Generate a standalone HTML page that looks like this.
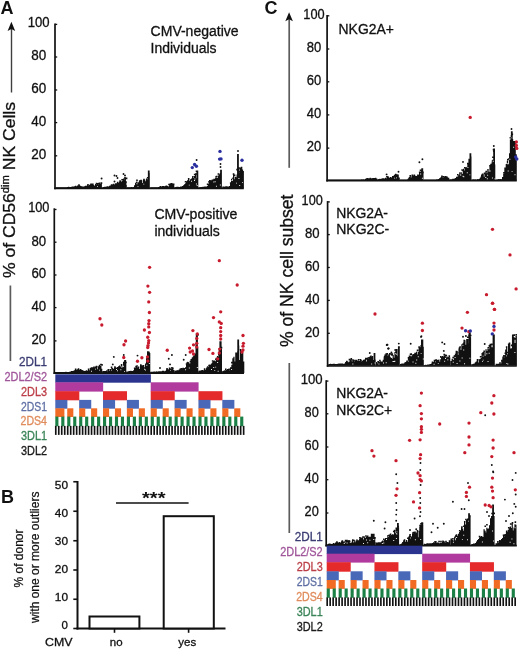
<!DOCTYPE html>
<html><head><meta charset="utf-8"><style>
html,body{margin:0;padding:0;background:#fff;}
body{width:520px;height:649px;overflow:hidden;}
svg{display:block;filter:blur(0.35px);font-family:"Liberation Sans",sans-serif;}
</style></head><body>
<svg width="520" height="649" viewBox="0 0 520 649">
<rect width="520" height="649" fill="#fff"/>
<text x="0.60" y="13.90" font-size="18" text-anchor="start" font-weight="bold" fill="#111" stroke="#111" stroke-width="0.0" >A</text>
<line x1="11.50" y1="29.00" x2="11.50" y2="92.50" stroke="#404040" stroke-width="1.4"/>
<path d="M11.4 21.8 L15.2 31.0 L11.4 29.0 L7.6 31.0 Z" fill="#111"/>
<line x1="10.40" y1="285.50" x2="10.40" y2="361.00" stroke="#5c5c5c" stroke-width="1.7"/>
<text transform="translate(14.8,278) rotate(-90)" font-size="16.5" fill="#111" stroke="#111" stroke-width="0.3" textLength="176" lengthAdjust="spacingAndGlyphs">% of CD56<tspan font-size="10.5" dy="-5.8">dim</tspan><tspan dy="5.8"> NK Cells</tspan></text>
<text x="150.60" y="36.20" font-size="14" text-anchor="start" font-weight="normal" fill="#111" stroke="#111" stroke-width="0.3" textLength="88" lengthAdjust="spacingAndGlyphs" >CMV-negative</text>
<text x="150.60" y="53.00" font-size="14" text-anchor="start" font-weight="normal" fill="#111" stroke="#111" stroke-width="0.3" textLength="66" lengthAdjust="spacingAndGlyphs" >Individuals</text>
<line x1="55.00" y1="23.50" x2="55.00" y2="189.20" stroke="#111" stroke-width="1.7"/>
<line x1="54.20" y1="188.40" x2="243.80" y2="188.40" stroke="#111" stroke-width="1.7"/>
<line x1="55.00" y1="24.40" x2="57.20" y2="24.40" stroke="#111" stroke-width="1.3"/>
<text x="38.70" y="27.10" font-size="14" text-anchor="middle" font-weight="normal" fill="#111" stroke="#111" stroke-width="0.3" textLength="21.9" lengthAdjust="spacingAndGlyphs" >100</text>
<line x1="55.00" y1="57.00" x2="57.20" y2="57.00" stroke="#111" stroke-width="1.3"/>
<text x="38.70" y="60.30" font-size="14" text-anchor="middle" font-weight="normal" fill="#111" stroke="#111" stroke-width="0.3" textLength="15.0" lengthAdjust="spacingAndGlyphs" >80</text>
<line x1="55.00" y1="90.00" x2="57.20" y2="90.00" stroke="#111" stroke-width="1.3"/>
<text x="38.70" y="93.30" font-size="14" text-anchor="middle" font-weight="normal" fill="#111" stroke="#111" stroke-width="0.3" textLength="15.0" lengthAdjust="spacingAndGlyphs" >60</text>
<line x1="55.00" y1="122.60" x2="57.20" y2="122.60" stroke="#111" stroke-width="1.3"/>
<text x="38.70" y="125.90" font-size="14" text-anchor="middle" font-weight="normal" fill="#111" stroke="#111" stroke-width="0.3" textLength="15.0" lengthAdjust="spacingAndGlyphs" >40</text>
<line x1="55.00" y1="155.80" x2="57.20" y2="155.80" stroke="#111" stroke-width="1.3"/>
<text x="38.70" y="159.10" font-size="14" text-anchor="middle" font-weight="normal" fill="#111" stroke="#111" stroke-width="0.3" textLength="15.0" lengthAdjust="spacingAndGlyphs" >20</text>
<path fill="#111" d="M147.85 188.20V170.50h1.80V188.20zM196.45 188.20V170.40h1.80V188.20zM220.10 188.20V169.70h1.80V188.20zM237.05 188.20V154.00h1.80V188.20zM55.50 188.20V187.30h1.25V188.20zM56.45 188.20V187.30h1.25V188.20zM57.41 188.20V187.30h1.25V188.20zM58.36 188.20V187.30h1.25V188.20zM59.32 188.20V187.30h1.25V188.20zM60.27 188.20V187.30h1.25V188.20zM61.23 188.20V187.30h1.25V188.20zM62.18 188.20V187.26h1.25V188.20zM63.14 188.20V187.30h1.25V188.20zM64.09 188.20V187.24h1.25V188.20zM65.05 188.20V187.30h1.25V188.20zM66.00 188.20V187.30h1.30V188.20zM67.00 188.20V187.10h1.30V188.20zM68.00 188.20V186.86h1.30V188.20zM69.00 188.20V187.10h1.30V188.20zM70.00 188.20V186.99h1.30V188.20zM71.00 188.20V186.73h1.30V188.20zM72.00 188.20V186.40h1.30V188.20zM73.00 188.20V186.39h1.30V188.20zM74.00 188.20V186.30h1.30V188.20zM75.00 188.20V185.64h1.30V188.20zM76.00 188.20V186.21h1.30V188.20zM77.00 188.20V185.38h1.30V188.20zM78.00 188.20V185.40h1.30V188.20zM79.00 188.20V185.32h1.30V188.20zM80.00 188.20V186.01h1.30V188.20zM81.00 188.20V186.15h1.30V188.20zM82.00 188.20V186.57h1.30V188.20zM83.00 188.20V186.49h1.30V188.20zM84.00 188.20V186.29h1.30V188.20zM85.00 188.20V185.82h1.30V188.20zM86.00 188.20V185.86h1.30V188.20zM87.00 188.20V185.28h1.30V188.20zM88.00 188.20V185.73h1.30V188.20zM89.00 188.20V184.68h1.30V188.20zM90.00 188.20V184.59h1.30V188.20zM91.00 188.20V184.96h1.30V188.20zM92.00 188.20V184.97h1.30V188.20zM93.00 188.20V184.98h1.30V188.20zM94.00 188.20V185.85h1.30V188.20zM95.00 188.20V184.07h1.30V188.20zM96.00 188.20V184.86h1.30V188.20zM97.00 188.20V184.04h1.30V188.20zM98.00 188.20V184.80h1.20V188.20zM98.90 188.20V184.02h1.20V188.20zM99.80 188.20V185.54h1.20V188.20zM100.70 188.20V183.32h1.20V188.20zM102.20 188.20V187.24h1.27V188.20zM103.17 188.20V186.92h1.27V188.20zM104.13 188.20V186.84h1.27V188.20zM105.10 188.20V186.75h1.27V188.20zM106.07 188.20V186.52h1.27V188.20zM107.03 188.20V186.30h1.27V188.20zM108.00 188.20V186.53h1.30V188.20zM109.00 188.20V185.70h1.30V188.20zM110.00 188.20V185.56h1.30V188.20zM111.00 188.20V185.61h1.30V188.20zM112.00 188.20V185.79h1.30V188.20zM113.00 188.20V184.87h1.30V188.20zM114.00 188.20V184.55h1.30V188.20zM115.00 188.20V184.92h1.30V188.20zM116.00 188.20V183.28h1.30V188.20zM117.00 188.20V183.18h1.30V188.20zM118.00 188.20V182.67h1.30V188.20zM119.00 188.20V181.69h1.30V188.20zM120.00 188.20V182.57h1.30V188.20zM121.00 188.20V181.97h1.30V188.20zM122.00 188.20V180.69h1.30V188.20zM123.00 188.20V179.54h1.18V188.20zM123.88 188.20V179.69h1.18V188.20zM124.75 188.20V179.01h1.18V188.20zM125.62 188.20V181.18h1.18V188.20zM127.00 188.20V187.30h1.30V188.20zM128.00 188.20V187.30h1.30V188.20zM129.00 188.20V187.30h1.30V188.20zM130.00 188.20V187.30h1.30V188.20zM131.00 188.20V187.12h1.30V188.20zM132.00 188.20V187.20h1.30V188.20zM133.00 188.20V186.93h1.30V188.20zM134.00 188.20V185.37h1.30V188.20zM135.00 188.20V182.86h1.30V188.20zM136.00 188.20V181.70h1.30V188.20zM137.00 188.20V182.56h1.30V188.20zM138.00 188.20V182.23h1.30V188.20zM139.00 188.20V181.72h1.30V188.20zM140.00 188.20V181.02h1.30V188.20zM141.00 188.20V180.37h1.30V188.20zM142.00 188.20V183.04h1.30V188.20zM143.00 188.20V179.84h1.30V188.20zM144.00 188.20V179.63h1.30V188.20zM145.00 188.20V181.22h1.23V188.20zM145.93 188.20V178.38h1.23V188.20zM146.87 188.20V179.13h1.23V188.20zM147.80 188.20V177.30h0.60V188.20zM148.10 188.20V173.02h1.70V188.20zM150.20 188.20V187.30h1.28V188.20zM151.17 188.20V187.30h1.28V188.20zM152.15 188.20V187.30h1.28V188.20zM153.12 188.20V187.30h1.28V188.20zM154.10 188.20V187.30h1.28V188.20zM155.07 188.20V187.30h1.28V188.20zM156.05 188.20V187.30h1.28V188.20zM157.03 188.20V187.30h1.28V188.20zM158.00 188.20V186.89h1.30V188.20zM159.00 188.20V186.38h1.30V188.20zM160.00 188.20V186.03h1.30V188.20zM161.00 188.20V186.47h1.30V188.20zM162.00 188.20V186.00h1.30V188.20zM163.00 188.20V185.97h1.30V188.20zM164.00 188.20V186.30h1.30V188.20zM165.00 188.20V185.63h1.30V188.20zM166.00 188.20V185.45h1.30V188.20zM167.00 188.20V185.98h1.30V188.20zM168.00 188.20V186.45h1.30V188.20zM169.00 188.20V185.27h1.30V188.20zM170.00 188.20V184.97h1.30V188.20zM171.00 188.20V184.17h1.30V188.20zM172.00 188.20V183.93h1.30V188.20zM173.00 188.20V185.08h1.30V188.20zM174.50 188.20V187.14h1.24V188.20zM175.44 188.20V186.97h1.24V188.20zM176.38 188.20V186.69h1.24V188.20zM177.31 188.20V186.67h1.24V188.20zM178.25 188.20V186.89h1.24V188.20zM179.19 188.20V186.90h1.24V188.20zM180.12 188.20V186.44h1.24V188.20zM181.06 188.20V186.57h1.24V188.20zM182.00 188.20V186.06h1.30V188.20zM183.00 188.20V185.32h1.30V188.20zM184.00 188.20V184.25h1.30V188.20zM185.00 188.20V183.18h1.30V188.20zM186.00 188.20V181.34h1.30V188.20zM187.00 188.20V180.19h1.30V188.20zM188.00 188.20V179.40h1.30V188.20zM189.00 188.20V180.71h1.30V188.20zM190.00 188.20V179.26h1.30V188.20zM191.00 188.20V178.54h1.30V188.20zM192.00 188.20V177.39h1.30V188.20zM193.00 188.20V178.03h1.30V188.20zM194.00 188.20V176.05h1.30V188.20zM195.00 188.20V174.52h1.10V188.20zM195.80 188.20V178.18h1.10V188.20zM196.60 188.20V172.38h1.70V188.20zM198.50 188.20V187.30h1.24V188.20zM199.44 188.20V187.26h1.24V188.20zM200.39 188.20V187.07h1.24V188.20zM201.33 188.20V187.04h1.24V188.20zM202.28 188.20V186.80h1.24V188.20zM203.22 188.20V186.75h1.24V188.20zM204.17 188.20V186.56h1.24V188.20zM205.11 188.20V186.53h1.24V188.20zM206.06 188.20V186.41h1.24V188.20zM207.00 188.20V185.66h1.30V188.20zM208.00 188.20V183.39h1.30V188.20zM209.00 188.20V181.90h1.18V188.20zM209.88 188.20V181.45h1.18V188.20zM210.75 188.20V181.23h1.18V188.20zM211.62 188.20V179.43h1.18V188.20zM212.50 188.20V180.43h1.16V188.20zM213.36 188.20V178.80h1.16V188.20zM214.22 188.20V178.67h1.16V188.20zM215.08 188.20V178.06h1.16V188.20zM215.94 188.20V177.92h1.16V188.20zM216.80 188.20V178.00h1.27V188.20zM217.77 188.20V175.38h1.27V188.20zM218.73 188.20V174.14h1.27V188.20zM219.70 188.20V173.36h1.25V188.20zM220.65 188.20V178.83h1.25V188.20zM222.30 188.20V186.59h1.26V188.20zM223.26 188.20V186.55h1.26V188.20zM224.23 188.20V186.70h1.26V188.20zM225.19 188.20V186.18h1.26V188.20zM226.15 188.20V186.32h1.26V188.20zM227.11 188.20V186.53h1.26V188.20zM228.07 188.20V186.45h1.26V188.20zM229.04 188.20V185.97h1.26V188.20zM230.00 188.20V183.55h1.30V188.20zM231.00 188.20V178.67h1.30V188.20zM232.00 188.20V180.90h1.30V188.20zM233.00 188.20V174.39h1.30V188.20zM234.00 188.20V179.34h1.13V188.20zM234.83 188.20V176.73h1.13V188.20zM235.67 188.20V177.35h1.13V188.20zM236.50 188.20V174.52h1.10V188.20zM237.30 188.20V169.60h1.50V188.20zM238.50 188.20V168.60h1.05V188.20zM239.25 188.20V173.03h1.05V188.20zM240.00 188.20V167.50h1.30V188.20zM241.00 188.20V168.33h1.30V188.20zM242.00 188.20V169.42h1.10V188.20zM242.80 188.20V170.91h1.10V188.20zM78.19 184.15h1.6v1.6h-1.6zM87.18 184.08h1.6v1.6h-1.6zM90.15 183.38h1.6v1.6h-1.6zM91.16 183.49h1.6v1.6h-1.6zM92.06 183.58h1.6v1.6h-1.6zM95.71 182.78h1.6v1.6h-1.6zM97.16 182.99h1.6v1.6h-1.6zM98.23 182.78h1.6v1.6h-1.6zM98.82 182.52h1.6v1.6h-1.6zM99.64 183.88h1.6v1.6h-1.6zM100.65 182.31h1.6v1.6h-1.6zM110.76 184.21h1.6v1.6h-1.6zM111.80 184.48h1.6v1.6h-1.6zM112.76 183.72h1.6v1.6h-1.6zM114.92 183.32h1.6v1.6h-1.6zM116.86 181.80h1.6v1.6h-1.6zM119.29 180.23h1.6v1.6h-1.6zM120.16 181.17h1.6v1.6h-1.6zM121.29 178.97h1.6v1.6h-1.6zM122.87 178.50h1.6v1.6h-1.6zM124.17 177.05h1.6v1.6h-1.6zM124.57 177.73h1.6v1.6h-1.6zM125.80 177.57h1.6v1.6h-1.6zM136.18 179.56h1.6v1.6h-1.6zM138.88 180.30h1.6v1.6h-1.6zM140.25 179.86h1.6v1.6h-1.6zM143.18 178.84h1.6v1.6h-1.6zM146.87 176.95h1.6v1.6h-1.6zM168.20 183.70h1.6v1.6h-1.6zM169.71 183.36h1.6v1.6h-1.6zM171.07 182.90h1.6v1.6h-1.6zM172.86 183.45h1.6v1.6h-1.6zM184.74 180.96h1.6v1.6h-1.6zM187.89 178.10h1.6v1.6h-1.6zM192.11 176.02h1.6v1.6h-1.6zM193.85 173.63h1.6v1.6h-1.6zM194.97 173.24h1.6v1.6h-1.6zM195.69 170.49h1.6v1.6h-1.6zM206.79 183.42h1.6v1.6h-1.6zM208.24 181.06h1.6v1.6h-1.6zM209.00 180.03h1.6v1.6h-1.6zM210.53 180.17h1.6v1.6h-1.6zM212.68 179.42h1.6v1.6h-1.6zM215.24 176.16h1.6v1.6h-1.6zM215.82 175.68h1.6v1.6h-1.6zM217.59 173.15h1.6v1.6h-1.6zM229.89 182.23h1.6v1.6h-1.6zM232.30 177.44h1.6v1.6h-1.6zM232.76 173.32h1.6v1.6h-1.6zM233.81 174.38h1.6v1.6h-1.6zM236.28 168.87h1.6v1.6h-1.6zM238.30 167.33h1.6v1.6h-1.6zM239.07 171.04h1.6v1.6h-1.6zM240.74 166.75h1.6v1.6h-1.6z"/>
<path fill="#fff" d="M97.07 185.91h0.95v0.95h-0.95zM126.06 183.54h0.95v0.95h-0.95zM136.49 183.31h0.95v0.95h-0.95zM137.48 186.16h0.95v0.95h-0.95zM143.31 183.66h0.95v0.95h-0.95zM188.81 184.64h0.95v0.95h-0.95zM191.10 180.74h0.95v0.95h-0.95zM194.41 178.50h0.95v0.95h-0.95zM194.00 180.06h0.95v0.95h-0.95zM195.93 183.52h0.95v0.95h-0.95zM196.68 185.05h0.95v0.95h-0.95zM213.34 181.49h0.95v0.95h-0.95zM214.70 181.37h0.95v0.95h-0.95zM215.93 185.76h0.95v0.95h-0.95zM219.87 184.52h0.95v0.95h-0.95zM231.30 180.15h0.95v0.95h-0.95zM235.99 182.66h0.95v0.95h-0.95zM238.45 177.95h0.95v0.95h-0.95zM239.22 185.09h0.95v0.95h-0.95zM241.97 181.92h0.95v0.95h-0.95z"/>
<g fill="#111"><circle cx="101.6" cy="178.5" r="0.95"/><circle cx="114.5" cy="175.5" r="0.95"/><circle cx="114.5" cy="181.5" r="0.95"/><circle cx="117.5" cy="178" r="0.95"/><circle cx="116.5" cy="176" r="0.95"/><circle cx="123.5" cy="174" r="0.95"/><circle cx="125" cy="175.5" r="0.95"/><circle cx="196.6" cy="160" r="0.95"/><circle cx="220.5" cy="164" r="0.95"/><circle cx="220.5" cy="167" r="0.95"/><circle cx="238" cy="151" r="0.95"/></g>
<g fill="#2a2fa0"><circle cx="192.3" cy="167.6" r="1.7"/><circle cx="194.6" cy="164.5" r="1.7"/><circle cx="196.4" cy="166.3" r="1.7"/><circle cx="220.0" cy="151.4" r="1.7"/><circle cx="219.6" cy="159.1" r="1.7"/><circle cx="221.0" cy="158.9" r="1.7"/><circle cx="242.0" cy="160.3" r="1.7"/></g>
<text x="154.40" y="219.20" font-size="14" text-anchor="start" font-weight="normal" fill="#111" stroke="#111" stroke-width="0.3" textLength="83" lengthAdjust="spacingAndGlyphs" >CMV-positive</text>
<text x="154.40" y="236.00" font-size="14" text-anchor="start" font-weight="normal" fill="#111" stroke="#111" stroke-width="0.3" textLength="65.5" lengthAdjust="spacingAndGlyphs" >individuals</text>
<line x1="54.30" y1="208.30" x2="54.30" y2="374.00" stroke="#111" stroke-width="1.7"/>
<line x1="53.50" y1="373.20" x2="244.00" y2="373.20" stroke="#111" stroke-width="1.7"/>
<line x1="54.30" y1="209.50" x2="56.50" y2="209.50" stroke="#111" stroke-width="1.3"/>
<text x="38.80" y="212.20" font-size="14" text-anchor="middle" font-weight="normal" fill="#111" stroke="#111" stroke-width="0.3" textLength="21.3" lengthAdjust="spacingAndGlyphs" >100</text>
<line x1="54.30" y1="242.20" x2="56.50" y2="242.20" stroke="#111" stroke-width="1.3"/>
<text x="38.80" y="245.50" font-size="14" text-anchor="middle" font-weight="normal" fill="#111" stroke="#111" stroke-width="0.3" textLength="14.7" lengthAdjust="spacingAndGlyphs" >80</text>
<line x1="54.30" y1="275.00" x2="56.50" y2="275.00" stroke="#111" stroke-width="1.3"/>
<text x="38.80" y="278.30" font-size="14" text-anchor="middle" font-weight="normal" fill="#111" stroke="#111" stroke-width="0.3" textLength="14.7" lengthAdjust="spacingAndGlyphs" >60</text>
<line x1="54.30" y1="307.60" x2="56.50" y2="307.60" stroke="#111" stroke-width="1.3"/>
<text x="38.80" y="310.90" font-size="14" text-anchor="middle" font-weight="normal" fill="#111" stroke="#111" stroke-width="0.3" textLength="14.7" lengthAdjust="spacingAndGlyphs" >40</text>
<line x1="54.30" y1="340.90" x2="56.50" y2="340.90" stroke="#111" stroke-width="1.3"/>
<text x="38.80" y="344.20" font-size="14" text-anchor="middle" font-weight="normal" fill="#111" stroke="#111" stroke-width="0.3" textLength="14.7" lengthAdjust="spacingAndGlyphs" >20</text>
<path fill="#111" d="M124.20 373.00V360.00h2.00V373.00zM147.50 373.00V352.50h2.50V373.00zM195.80 373.00V333.50h2.10V373.00zM219.40 373.00V341.30h2.20V373.00zM237.30 373.00V339.40h1.80V373.00zM55.00 373.00V372.10h1.24V373.00zM55.94 373.00V372.10h1.24V373.00zM56.88 373.00V372.10h1.24V373.00zM57.81 373.00V372.10h1.24V373.00zM58.75 373.00V372.10h1.24V373.00zM59.69 373.00V372.10h1.24V373.00zM60.62 373.00V372.10h1.24V373.00zM61.56 373.00V372.10h1.24V373.00zM62.50 373.00V371.99h1.24V373.00zM63.44 373.00V371.96h1.24V373.00zM64.38 373.00V371.89h1.24V373.00zM65.31 373.00V371.79h1.24V373.00zM66.25 373.00V372.01h1.24V373.00zM67.19 373.00V372.02h1.24V373.00zM68.12 373.00V371.95h1.24V373.00zM69.06 373.00V371.74h1.24V373.00zM70.00 373.00V371.51h1.30V373.00zM71.00 373.00V371.08h1.30V373.00zM72.00 373.00V370.94h1.30V373.00zM73.00 373.00V370.72h1.30V373.00zM74.00 373.00V370.35h1.30V373.00zM75.00 373.00V370.10h1.30V373.00zM76.00 373.00V370.99h1.30V373.00zM77.00 373.00V370.26h1.30V373.00zM78.00 373.00V369.81h1.30V373.00zM79.00 373.00V369.80h1.30V373.00zM80.00 373.00V370.21h1.30V373.00zM81.00 373.00V371.02h1.30V373.00zM82.00 373.00V370.37h1.30V373.00zM83.00 373.00V370.73h1.30V373.00zM84.00 373.00V370.99h1.30V373.00zM85.00 373.00V370.66h1.30V373.00zM86.00 373.00V370.26h1.30V373.00zM87.00 373.00V370.70h1.30V373.00zM88.00 373.00V370.05h1.30V373.00zM89.00 373.00V370.17h1.30V373.00zM90.00 373.00V369.21h1.30V373.00zM91.00 373.00V368.73h1.30V373.00zM92.00 373.00V368.65h1.30V373.00zM93.00 373.00V368.04h1.30V373.00zM94.00 373.00V367.55h1.30V373.00zM95.00 373.00V366.43h1.18V373.00zM95.88 373.00V366.68h1.18V373.00zM96.77 373.00V369.26h1.18V373.00zM97.65 373.00V366.19h1.18V373.00zM98.53 373.00V366.24h1.18V373.00zM99.42 373.00V365.68h1.18V373.00zM100.30 373.00V366.04h1.15V373.00zM101.15 373.00V368.67h1.15V373.00zM102.50 373.00V371.06h1.22V373.00zM103.42 373.00V371.11h1.22V373.00zM104.33 373.00V370.95h1.22V373.00zM105.25 373.00V370.98h1.22V373.00zM106.17 373.00V370.30h1.22V373.00zM107.08 373.00V371.30h1.22V373.00zM108.00 373.00V370.84h1.30V373.00zM109.00 373.00V370.72h1.30V373.00zM110.00 373.00V368.97h1.30V373.00zM111.00 373.00V368.18h1.30V373.00zM112.00 373.00V368.06h1.30V373.00zM113.00 373.00V369.11h1.30V373.00zM114.00 373.00V367.73h1.30V373.00zM115.00 373.00V367.34h1.30V373.00zM116.00 373.00V367.67h1.30V373.00zM117.00 373.00V367.07h1.30V373.00zM118.00 373.00V366.28h1.30V373.00zM119.00 373.00V365.57h1.30V373.00zM120.00 373.00V366.41h1.30V373.00zM121.00 373.00V365.49h1.30V373.00zM122.00 373.00V367.33h1.30V373.00zM123.00 373.00V361.69h1.30V373.00zM124.00 373.00V361.68h1.30V373.00zM125.00 373.00V363.56h1.30V373.00zM126.50 373.00V371.52h1.24V373.00zM127.44 373.00V371.40h1.24V373.00zM128.38 373.00V371.11h1.24V373.00zM129.31 373.00V370.89h1.24V373.00zM130.25 373.00V370.71h1.24V373.00zM131.19 373.00V371.05h1.24V373.00zM132.12 373.00V370.89h1.24V373.00zM133.06 373.00V370.33h1.24V373.00zM134.00 373.00V369.34h1.30V373.00zM135.00 373.00V367.46h1.30V373.00zM136.00 373.00V366.13h1.30V373.00zM137.00 373.00V367.36h1.30V373.00zM138.00 373.00V366.39h1.30V373.00zM139.00 373.00V369.01h1.30V373.00zM140.00 373.00V365.57h1.30V373.00zM141.00 373.00V365.30h1.30V373.00zM142.00 373.00V365.30h1.30V373.00zM143.00 373.00V365.02h1.30V373.00zM144.00 373.00V367.13h1.30V373.00zM145.00 373.00V363.38h1.30V373.00zM146.00 373.00V358.88h1.30V373.00zM147.00 373.00V352.90h1.30V373.00zM148.00 373.00V353.53h1.30V373.00zM149.00 373.00V353.08h1.30V373.00zM150.50 373.00V371.87h1.25V373.00zM151.45 373.00V371.69h1.25V373.00zM152.40 373.00V371.82h1.25V373.00zM153.35 373.00V371.61h1.25V373.00zM154.30 373.00V371.53h1.25V373.00zM155.25 373.00V371.74h1.25V373.00zM156.20 373.00V371.37h1.25V373.00zM157.15 373.00V371.64h1.25V373.00zM158.10 373.00V371.23h1.25V373.00zM159.05 373.00V371.16h1.25V373.00zM160.00 373.00V371.19h1.30V373.00zM161.00 373.00V371.30h1.30V373.00zM162.00 373.00V370.77h1.30V373.00zM163.00 373.00V370.66h1.30V373.00zM164.00 373.00V371.35h1.30V373.00zM165.00 373.00V370.82h1.30V373.00zM166.00 373.00V369.38h1.30V373.00zM167.00 373.00V369.22h1.30V373.00zM168.00 373.00V369.25h1.30V373.00zM169.00 373.00V368.86h1.30V373.00zM170.00 373.00V370.66h1.30V373.00zM171.00 373.00V369.00h1.30V373.00zM172.00 373.00V368.86h1.30V373.00zM173.00 373.00V370.00h1.30V373.00zM174.50 373.00V370.50h1.25V373.00zM175.45 373.00V370.97h1.25V373.00zM176.41 373.00V370.05h1.25V373.00zM177.36 373.00V370.58h1.25V373.00zM178.32 373.00V369.69h1.25V373.00zM179.27 373.00V369.60h1.25V373.00zM180.23 373.00V369.40h1.25V373.00zM181.18 373.00V369.29h1.25V373.00zM182.14 373.00V369.14h1.25V373.00zM183.09 373.00V369.16h1.25V373.00zM184.05 373.00V369.12h1.25V373.00zM185.00 373.00V367.35h1.30V373.00zM186.00 373.00V364.22h1.30V373.00zM187.00 373.00V363.93h1.18V373.00zM187.88 373.00V362.15h1.18V373.00zM188.75 373.00V363.51h1.18V373.00zM189.62 373.00V360.84h1.18V373.00zM190.50 373.00V359.02h1.28V373.00zM191.47 373.00V358.67h1.28V373.00zM192.45 373.00V356.73h1.28V373.00zM193.43 373.00V357.10h1.28V373.00zM194.40 373.00V353.40h1.40V373.00zM195.50 373.00V342.91h1.30V373.00zM196.50 373.00V353.10h1.30V373.00zM197.50 373.00V347.52h0.80V373.00zM198.50 373.00V370.71h1.23V373.00zM199.43 373.00V370.54h1.23V373.00zM200.36 373.00V370.43h1.23V373.00zM201.29 373.00V370.02h1.23V373.00zM202.21 373.00V369.92h1.23V373.00zM203.14 373.00V370.44h1.23V373.00zM204.07 373.00V369.86h1.23V373.00zM205.00 373.00V370.89h1.30V373.00zM206.00 373.00V368.56h1.30V373.00zM207.00 373.00V368.07h1.30V373.00zM208.00 373.00V366.99h1.28V373.00zM208.98 373.00V365.61h1.28V373.00zM209.96 373.00V365.07h1.28V373.00zM210.94 373.00V363.61h1.28V373.00zM211.92 373.00V362.33h1.28V373.00zM212.90 373.00V360.69h1.28V373.00zM213.88 373.00V360.45h1.28V373.00zM214.85 373.00V361.13h1.28V373.00zM215.83 373.00V359.88h1.28V373.00zM216.80 373.00V357.19h1.25V373.00zM217.75 373.00V357.11h1.25V373.00zM218.70 373.00V348.12h1.20V373.00zM219.60 373.00V345.39h1.20V373.00zM220.50 373.00V349.09h1.50V373.00zM222.20 373.00V371.05h1.28V373.00zM223.17 373.00V370.69h1.28V373.00zM224.15 373.00V370.23h1.28V373.00zM225.12 373.00V370.17h1.28V373.00zM226.10 373.00V369.94h1.28V373.00zM227.07 373.00V370.43h1.28V373.00zM228.05 373.00V369.66h1.28V373.00zM229.03 373.00V370.19h1.28V373.00zM230.00 373.00V367.26h1.60V373.00zM231.30 373.00V364.69h1.30V373.00zM232.30 373.00V358.16h1.30V373.00zM233.30 373.00V356.63h1.27V373.00zM234.27 373.00V361.43h1.27V373.00zM235.23 373.00V352.46h1.27V373.00zM236.20 373.00V352.52h1.25V373.00zM237.15 373.00V350.97h1.25V373.00zM238.10 373.00V345.62h1.20V373.00zM239.00 373.00V359.99h1.30V373.00zM240.00 373.00V350.32h1.30V373.00zM241.00 373.00V353.52h1.30V373.00zM242.00 373.00V352.43h1.30V373.00zM243.00 373.00V361.53h1.30V373.00zM74.84 368.58h1.6v1.6h-1.6zM75.85 369.78h1.6v1.6h-1.6zM77.01 369.19h1.6v1.6h-1.6zM77.71 368.36h1.6v1.6h-1.6zM79.85 368.98h1.6v1.6h-1.6zM81.00 369.99h1.6v1.6h-1.6zM87.82 368.54h1.6v1.6h-1.6zM89.84 367.79h1.6v1.6h-1.6zM91.00 367.13h1.6v1.6h-1.6zM91.83 367.20h1.6v1.6h-1.6zM93.24 366.59h1.6v1.6h-1.6zM95.75 365.67h1.6v1.6h-1.6zM98.79 364.73h1.6v1.6h-1.6zM100.15 363.74h1.6v1.6h-1.6zM101.22 364.04h1.6v1.6h-1.6zM107.36 369.26h1.6v1.6h-1.6zM108.00 368.94h1.6v1.6h-1.6zM110.75 366.45h1.6v1.6h-1.6zM114.13 366.16h1.6v1.6h-1.6zM120.77 364.00h1.6v1.6h-1.6zM124.06 360.22h1.6v1.6h-1.6zM125.18 361.76h1.6v1.6h-1.6zM133.89 367.54h1.6v1.6h-1.6zM135.30 365.63h1.6v1.6h-1.6zM136.24 365.13h1.6v1.6h-1.6zM140.01 364.30h1.6v1.6h-1.6zM146.13 357.48h1.6v1.6h-1.6zM147.03 351.36h1.6v1.6h-1.6zM147.97 351.52h1.6v1.6h-1.6zM166.25 367.90h1.6v1.6h-1.6zM168.79 367.41h1.6v1.6h-1.6zM169.89 368.41h1.6v1.6h-1.6zM171.11 367.12h1.6v1.6h-1.6zM172.08 367.54h1.6v1.6h-1.6zM179.42 368.49h1.6v1.6h-1.6zM180.52 368.03h1.6v1.6h-1.6zM180.90 368.29h1.6v1.6h-1.6zM182.37 367.79h1.6v1.6h-1.6zM183.96 368.01h1.6v1.6h-1.6zM185.76 363.13h1.6v1.6h-1.6zM186.71 362.34h1.6v1.6h-1.6zM191.71 357.58h1.6v1.6h-1.6zM193.15 355.61h1.6v1.6h-1.6zM197.40 333.96h1.6v1.6h-1.6zM203.82 368.37h1.6v1.6h-1.6zM205.26 369.64h1.6v1.6h-1.6zM206.12 367.52h1.6v1.6h-1.6zM206.92 366.19h1.6v1.6h-1.6zM208.25 364.71h1.6v1.6h-1.6zM209.19 364.56h1.6v1.6h-1.6zM211.84 360.23h1.6v1.6h-1.6zM215.14 358.52h1.6v1.6h-1.6zM215.68 357.76h1.6v1.6h-1.6zM216.88 356.07h1.6v1.6h-1.6zM217.98 353.97h1.6v1.6h-1.6zM220.71 346.86h1.6v1.6h-1.6zM224.97 368.44h1.6v1.6h-1.6zM226.97 369.07h1.6v1.6h-1.6zM228.34 368.49h1.6v1.6h-1.6zM231.06 361.86h1.6v1.6h-1.6zM237.28 342.80h1.6v1.6h-1.6zM239.80 349.01h1.6v1.6h-1.6z"/>
<path fill="#fff" d="M91.09 370.72h0.95v0.95h-0.95zM95.07 368.63h0.95v0.95h-0.95zM98.96 369.63h0.95v0.95h-0.95zM110.97 369.63h0.95v0.95h-0.95zM116.01 369.04h0.95v0.95h-0.95zM116.97 370.27h0.95v0.95h-0.95zM120.37 369.29h0.95v0.95h-0.95zM121.21 366.61h0.95v0.95h-0.95zM122.95 365.85h0.95v0.95h-0.95zM124.03 370.91h0.95v0.95h-0.95zM143.96 368.75h0.95v0.95h-0.95zM145.08 369.56h0.95v0.95h-0.95zM146.33 364.75h0.95v0.95h-0.95zM148.14 360.80h0.95v0.95h-0.95zM148.87 362.99h0.95v0.95h-0.95zM185.13 369.34h0.95v0.95h-0.95zM188.83 367.55h0.95v0.95h-0.95zM189.52 362.38h0.95v0.95h-0.95zM196.82 367.01h0.95v0.95h-0.95zM211.04 368.96h0.95v0.95h-0.95zM213.24 366.93h0.95v0.95h-0.95zM214.25 370.13h0.95v0.95h-0.95zM215.21 366.64h0.95v0.95h-0.95zM217.15 362.07h0.95v0.95h-0.95zM217.69 370.68h0.95v0.95h-0.95zM231.12 368.94h0.95v0.95h-0.95z"/>
<g fill="#111"><circle cx="113.8" cy="356.9" r="0.95"/><circle cx="112.8" cy="364.4" r="0.95"/><circle cx="123.75" cy="355" r="0.95"/><circle cx="137.5" cy="355.6" r="0.95"/><circle cx="171.9" cy="355" r="0.95"/><circle cx="168.75" cy="358.75" r="0.95"/><circle cx="170" cy="364.4" r="0.95"/><circle cx="160" cy="368" r="0.95"/><circle cx="185.7" cy="355" r="0.95"/><circle cx="183.7" cy="359.8" r="0.95"/><circle cx="187.6" cy="362.7" r="0.95"/></g>
<g fill="#c81c2e"><circle cx="100" cy="318.75" r="1.65"/><circle cx="101.8" cy="325" r="1.65"/><circle cx="149.6" cy="267.3" r="1.65"/><circle cx="147.9" cy="286.1" r="1.65"/><circle cx="149.6" cy="292.3" r="1.65"/><circle cx="125.6" cy="341" r="1.65"/><circle cx="124" cy="344.75" r="1.65"/><circle cx="123.75" cy="357.5" r="1.65"/><circle cx="148.75" cy="301.9" r="1.65"/><circle cx="149.4" cy="312.5" r="1.65"/><circle cx="149" cy="320.6" r="1.65"/><circle cx="148.75" cy="323.75" r="1.65"/><circle cx="148.75" cy="326.9" r="1.65"/><circle cx="144.4" cy="330" r="1.65"/><circle cx="149.4" cy="332.5" r="1.65"/><circle cx="147.75" cy="337.25" r="1.65"/><circle cx="148.75" cy="340.6" r="1.65"/><circle cx="148.5" cy="343" r="1.65"/><circle cx="148" cy="345.6" r="1.65"/><circle cx="147.75" cy="347.5" r="1.65"/><circle cx="147.5" cy="356.9" r="1.65"/><circle cx="147.75" cy="361" r="1.65"/><circle cx="141.9" cy="357.75" r="1.65"/><circle cx="137.5" cy="361.25" r="1.65"/><circle cx="167.25" cy="350.25" r="1.65"/><circle cx="192.9" cy="330.6" r="1.65"/><circle cx="197.3" cy="334" r="1.65"/><circle cx="196.8" cy="338.4" r="1.65"/><circle cx="196.8" cy="343.3" r="1.65"/><circle cx="193.5" cy="344.8" r="1.65"/><circle cx="196.8" cy="347.1" r="1.65"/><circle cx="189.6" cy="348.1" r="1.65"/><circle cx="192.5" cy="351" r="1.65"/><circle cx="190.2" cy="352" r="1.65"/><circle cx="193.5" cy="354" r="1.65"/><circle cx="219.3" cy="260.7" r="1.65"/><circle cx="220.7" cy="311.8" r="1.65"/><circle cx="213.5" cy="317.6" r="1.65"/><circle cx="219.3" cy="321.9" r="1.65"/><circle cx="221.2" cy="323.4" r="1.65"/><circle cx="220.7" cy="327.7" r="1.65"/><circle cx="220.7" cy="331.6" r="1.65"/><circle cx="220.7" cy="335.5" r="1.65"/><circle cx="220.7" cy="339" r="1.65"/><circle cx="219.7" cy="349.1" r="1.65"/><circle cx="219.3" cy="353" r="1.65"/><circle cx="217.7" cy="358.8" r="1.65"/><circle cx="209" cy="349.5" r="1.65"/><circle cx="212.9" cy="353.4" r="1.65"/><circle cx="237.2" cy="285" r="1.65"/><circle cx="243" cy="335.5" r="1.65"/><circle cx="243.4" cy="343.3" r="1.65"/><circle cx="243" cy="346.2" r="1.65"/><circle cx="243" cy="350" r="1.65"/><circle cx="242" cy="352" r="1.65"/></g>
<rect x="55.30" y="374.30" width="95.57" height="8.40" fill="#2b3590"/>
<rect x="55.30" y="382.30" width="47.86" height="9.30" fill="#b03a9e"/>
<rect x="150.72" y="382.30" width="47.86" height="9.30" fill="#b03a9e"/>
<rect x="55.30" y="391.20" width="24.01" height="9.10" fill="#e52a2b"/>
<rect x="103.01" y="391.20" width="24.01" height="9.10" fill="#e52a2b"/>
<rect x="150.72" y="391.20" width="24.01" height="9.10" fill="#e52a2b"/>
<rect x="198.44" y="391.20" width="24.01" height="9.10" fill="#e52a2b"/>
<rect x="55.30" y="399.90" width="12.08" height="8.80" fill="#4a68b8"/>
<rect x="79.16" y="399.90" width="12.08" height="8.80" fill="#4a68b8"/>
<rect x="103.01" y="399.90" width="12.08" height="8.80" fill="#4a68b8"/>
<rect x="126.87" y="399.90" width="12.08" height="8.80" fill="#4a68b8"/>
<rect x="150.72" y="399.90" width="12.08" height="8.80" fill="#4a68b8"/>
<rect x="174.58" y="399.90" width="12.08" height="8.80" fill="#4a68b8"/>
<rect x="198.44" y="399.90" width="12.08" height="8.80" fill="#4a68b8"/>
<rect x="222.29" y="399.90" width="12.08" height="8.80" fill="#4a68b8"/>
<rect x="55.30" y="408.30" width="9.10" height="8.70" fill="#f26b24"/>
<rect x="67.23" y="408.30" width="6.11" height="8.70" fill="#f26b24"/>
<rect x="79.16" y="408.30" width="6.11" height="8.70" fill="#f26b24"/>
<rect x="91.08" y="408.30" width="6.11" height="8.70" fill="#f26b24"/>
<rect x="103.01" y="408.30" width="6.11" height="8.70" fill="#f26b24"/>
<rect x="114.94" y="408.30" width="6.11" height="8.70" fill="#f26b24"/>
<rect x="126.87" y="408.30" width="6.11" height="8.70" fill="#f26b24"/>
<rect x="138.80" y="408.30" width="6.11" height="8.70" fill="#f26b24"/>
<rect x="150.72" y="408.30" width="6.11" height="8.70" fill="#f26b24"/>
<rect x="162.65" y="408.30" width="6.11" height="8.70" fill="#f26b24"/>
<rect x="174.58" y="408.30" width="6.11" height="8.70" fill="#f26b24"/>
<rect x="186.51" y="408.30" width="6.11" height="8.70" fill="#f26b24"/>
<rect x="198.44" y="408.30" width="6.11" height="8.70" fill="#f26b24"/>
<rect x="210.36" y="408.30" width="6.11" height="8.70" fill="#f26b24"/>
<rect x="222.29" y="408.30" width="6.11" height="8.70" fill="#f26b24"/>
<rect x="234.22" y="408.30" width="6.11" height="8.70" fill="#f26b24"/>
<rect x="55.30" y="416.60" width="3.13" height="9.70" fill="#1a8045"/>
<rect x="61.26" y="416.60" width="3.13" height="9.70" fill="#1a8045"/>
<rect x="67.23" y="416.60" width="3.13" height="9.70" fill="#1a8045"/>
<rect x="73.19" y="416.60" width="3.13" height="9.70" fill="#1a8045"/>
<rect x="79.16" y="416.60" width="3.13" height="9.70" fill="#1a8045"/>
<rect x="85.12" y="416.60" width="3.13" height="9.70" fill="#1a8045"/>
<rect x="91.08" y="416.60" width="3.13" height="9.70" fill="#1a8045"/>
<rect x="97.05" y="416.60" width="3.13" height="9.70" fill="#1a8045"/>
<rect x="103.01" y="416.60" width="3.13" height="9.70" fill="#1a8045"/>
<rect x="108.98" y="416.60" width="3.13" height="9.70" fill="#1a8045"/>
<rect x="114.94" y="416.60" width="3.13" height="9.70" fill="#1a8045"/>
<rect x="120.90" y="416.60" width="3.13" height="9.70" fill="#1a8045"/>
<rect x="126.87" y="416.60" width="3.13" height="9.70" fill="#1a8045"/>
<rect x="132.83" y="416.60" width="3.13" height="9.70" fill="#1a8045"/>
<rect x="138.80" y="416.60" width="3.13" height="9.70" fill="#1a8045"/>
<rect x="144.76" y="416.60" width="3.13" height="9.70" fill="#1a8045"/>
<rect x="150.72" y="416.60" width="3.13" height="9.70" fill="#1a8045"/>
<rect x="156.69" y="416.60" width="3.13" height="9.70" fill="#1a8045"/>
<rect x="162.65" y="416.60" width="3.13" height="9.70" fill="#1a8045"/>
<rect x="168.62" y="416.60" width="3.13" height="9.70" fill="#1a8045"/>
<rect x="174.58" y="416.60" width="3.13" height="9.70" fill="#1a8045"/>
<rect x="180.54" y="416.60" width="3.13" height="9.70" fill="#1a8045"/>
<rect x="186.51" y="416.60" width="3.13" height="9.70" fill="#1a8045"/>
<rect x="192.47" y="416.60" width="3.13" height="9.70" fill="#1a8045"/>
<rect x="198.44" y="416.60" width="3.13" height="9.70" fill="#1a8045"/>
<rect x="204.40" y="416.60" width="3.13" height="9.70" fill="#1a8045"/>
<rect x="210.36" y="416.60" width="3.13" height="9.70" fill="#1a8045"/>
<rect x="216.33" y="416.60" width="3.13" height="9.70" fill="#1a8045"/>
<rect x="222.29" y="416.60" width="3.13" height="9.70" fill="#1a8045"/>
<rect x="228.26" y="416.60" width="3.13" height="9.70" fill="#1a8045"/>
<rect x="234.22" y="416.60" width="3.13" height="9.70" fill="#1a8045"/>
<rect x="240.18" y="416.60" width="3.13" height="9.70" fill="#1a8045"/>
<g fill="#111"><rect x="54.95" y="425.90" width="1.65" height="9.00"/><rect x="57.93" y="425.90" width="1.65" height="9.00"/><rect x="60.91" y="425.90" width="1.65" height="9.00"/><rect x="63.90" y="425.90" width="1.65" height="9.00"/><rect x="66.88" y="425.90" width="1.65" height="9.00"/><rect x="69.86" y="425.90" width="1.65" height="9.00"/><rect x="72.84" y="425.90" width="1.65" height="9.00"/><rect x="75.82" y="425.90" width="1.65" height="9.00"/><rect x="78.81" y="425.90" width="1.65" height="9.00"/><rect x="81.79" y="425.90" width="1.65" height="9.00"/><rect x="84.77" y="425.90" width="1.65" height="9.00"/><rect x="87.75" y="425.90" width="1.65" height="9.00"/><rect x="90.73" y="425.90" width="1.65" height="9.00"/><rect x="93.72" y="425.90" width="1.65" height="9.00"/><rect x="96.70" y="425.90" width="1.65" height="9.00"/><rect x="99.68" y="425.90" width="1.65" height="9.00"/><rect x="102.66" y="425.90" width="1.65" height="9.00"/><rect x="105.64" y="425.90" width="1.65" height="9.00"/><rect x="108.63" y="425.90" width="1.65" height="9.00"/><rect x="111.61" y="425.90" width="1.65" height="9.00"/><rect x="114.59" y="425.90" width="1.65" height="9.00"/><rect x="117.57" y="425.90" width="1.65" height="9.00"/><rect x="120.55" y="425.90" width="1.65" height="9.00"/><rect x="123.54" y="425.90" width="1.65" height="9.00"/><rect x="126.52" y="425.90" width="1.65" height="9.00"/><rect x="129.50" y="425.90" width="1.65" height="9.00"/><rect x="132.48" y="425.90" width="1.65" height="9.00"/><rect x="135.46" y="425.90" width="1.65" height="9.00"/><rect x="138.45" y="425.90" width="1.65" height="9.00"/><rect x="141.43" y="425.90" width="1.65" height="9.00"/><rect x="144.41" y="425.90" width="1.65" height="9.00"/><rect x="147.39" y="425.90" width="1.65" height="9.00"/><rect x="150.37" y="425.90" width="1.65" height="9.00"/><rect x="153.36" y="425.90" width="1.65" height="9.00"/><rect x="156.34" y="425.90" width="1.65" height="9.00"/><rect x="159.32" y="425.90" width="1.65" height="9.00"/><rect x="162.30" y="425.90" width="1.65" height="9.00"/><rect x="165.28" y="425.90" width="1.65" height="9.00"/><rect x="168.27" y="425.90" width="1.65" height="9.00"/><rect x="171.25" y="425.90" width="1.65" height="9.00"/><rect x="174.23" y="425.90" width="1.65" height="9.00"/><rect x="177.21" y="425.90" width="1.65" height="9.00"/><rect x="180.19" y="425.90" width="1.65" height="9.00"/><rect x="183.18" y="425.90" width="1.65" height="9.00"/><rect x="186.16" y="425.90" width="1.65" height="9.00"/><rect x="189.14" y="425.90" width="1.65" height="9.00"/><rect x="192.12" y="425.90" width="1.65" height="9.00"/><rect x="195.10" y="425.90" width="1.65" height="9.00"/><rect x="198.09" y="425.90" width="1.65" height="9.00"/><rect x="201.07" y="425.90" width="1.65" height="9.00"/><rect x="204.05" y="425.90" width="1.65" height="9.00"/><rect x="207.03" y="425.90" width="1.65" height="9.00"/><rect x="210.01" y="425.90" width="1.65" height="9.00"/><rect x="213.00" y="425.90" width="1.65" height="9.00"/><rect x="215.98" y="425.90" width="1.65" height="9.00"/><rect x="218.96" y="425.90" width="1.65" height="9.00"/><rect x="221.94" y="425.90" width="1.65" height="9.00"/><rect x="224.92" y="425.90" width="1.65" height="9.00"/><rect x="227.91" y="425.90" width="1.65" height="9.00"/><rect x="230.89" y="425.90" width="1.65" height="9.00"/><rect x="233.87" y="425.90" width="1.65" height="9.00"/><rect x="236.85" y="425.90" width="1.65" height="9.00"/><rect x="239.83" y="425.90" width="1.65" height="9.00"/><rect x="242.82" y="425.90" width="1.65" height="9.00"/></g>
<text x="47.00" y="366.00" font-size="12" text-anchor="end" font-weight="normal" fill="#3a3c72" stroke="#3a3c72" stroke-width="0.3" textLength="28.0" lengthAdjust="spacingAndGlyphs" >2DL1</text>
<text x="47.00" y="380.85" font-size="12" text-anchor="end" font-weight="normal" fill="#a0569a" stroke="#a0569a" stroke-width="0.3" textLength="42.5" lengthAdjust="spacingAndGlyphs" >2DL2/S2</text>
<text x="47.00" y="395.70" font-size="12" text-anchor="end" font-weight="normal" fill="#bc3f48" stroke="#bc3f48" stroke-width="0.3" textLength="26.0" lengthAdjust="spacingAndGlyphs" >2DL3</text>
<text x="47.00" y="410.55" font-size="12" text-anchor="end" font-weight="normal" fill="#5f6fa4" stroke="#5f6fa4" stroke-width="0.3" textLength="26.0" lengthAdjust="spacingAndGlyphs" >2DS1</text>
<text x="47.00" y="425.40" font-size="12" text-anchor="end" font-weight="normal" fill="#e08c5c" stroke="#e08c5c" stroke-width="0.3" textLength="26.5" lengthAdjust="spacingAndGlyphs" >2DS4</text>
<text x="47.00" y="440.25" font-size="12" text-anchor="end" font-weight="normal" fill="#3a8458" stroke="#3a8458" stroke-width="0.3" textLength="26.0" lengthAdjust="spacingAndGlyphs" >3DL1</text>
<text x="47.00" y="455.10" font-size="12" text-anchor="end" font-weight="normal" fill="#1a1a1a" stroke="#1a1a1a" stroke-width="0.3" textLength="26.0" lengthAdjust="spacingAndGlyphs" >3DL2</text>
<text x="1.00" y="502.70" font-size="18" text-anchor="start" font-weight="bold" fill="#111" stroke="#111" stroke-width="0.0" >B</text>
<text transform="translate(23,558.5) rotate(-90)" font-size="12" text-anchor="middle" fill="#111" stroke="#111" stroke-width="0.25">% of donor</text>
<text transform="translate(39,557.3) rotate(-90)" font-size="12" text-anchor="middle" fill="#111" stroke="#111" stroke-width="0.25">with one or more outliers</text>
<line x1="77.50" y1="481.00" x2="77.50" y2="629.50" stroke="#111" stroke-width="2.0"/>
<line x1="76.50" y1="628.50" x2="225.50" y2="628.50" stroke="#111" stroke-width="2.0"/>
<line x1="73.30" y1="481.75" x2="77.50" y2="481.75" stroke="#111" stroke-width="1.6"/>
<text x="68.00" y="489.00" font-size="11" text-anchor="end" font-weight="normal" fill="#111" stroke="#111" stroke-width="0.3" textLength="13.2" lengthAdjust="spacingAndGlyphs" >50</text>
<line x1="73.30" y1="511.25" x2="77.50" y2="511.25" stroke="#111" stroke-width="1.6"/>
<text x="68.00" y="517.00" font-size="11" text-anchor="end" font-weight="normal" fill="#111" stroke="#111" stroke-width="0.3" textLength="13.2" lengthAdjust="spacingAndGlyphs" >40</text>
<line x1="73.30" y1="540.75" x2="77.50" y2="540.75" stroke="#111" stroke-width="1.6"/>
<text x="68.00" y="545.00" font-size="11" text-anchor="end" font-weight="normal" fill="#111" stroke="#111" stroke-width="0.3" textLength="13.2" lengthAdjust="spacingAndGlyphs" >30</text>
<line x1="73.30" y1="570.00" x2="77.50" y2="570.00" stroke="#111" stroke-width="1.6"/>
<text x="68.00" y="573.00" font-size="11" text-anchor="end" font-weight="normal" fill="#111" stroke="#111" stroke-width="0.3" textLength="13.2" lengthAdjust="spacingAndGlyphs" >20</text>
<line x1="73.30" y1="599.25" x2="77.50" y2="599.25" stroke="#111" stroke-width="1.6"/>
<text x="68.00" y="601.00" font-size="11" text-anchor="end" font-weight="normal" fill="#111" stroke="#111" stroke-width="0.3" textLength="13.2" lengthAdjust="spacingAndGlyphs" >10</text>
<line x1="73.30" y1="628.50" x2="77.50" y2="628.50" stroke="#111" stroke-width="1.6"/>
<text x="68.00" y="629.00" font-size="11" text-anchor="end" font-weight="normal" fill="#111" stroke="#111" stroke-width="0.3" textLength="6.4" lengthAdjust="spacingAndGlyphs" >0</text>
<line x1="114.50" y1="628.50" x2="114.50" y2="632.80" stroke="#111" stroke-width="1.6"/>
<line x1="188.60" y1="628.50" x2="188.60" y2="632.80" stroke="#111" stroke-width="1.6"/>
<rect x="89.5" y="616.5" width="49.9" height="12" fill="#fff" stroke="#111" stroke-width="2"/>
<rect x="163.7" y="516.2" width="50.1" height="112.3" fill="#fff" stroke="#111" stroke-width="2"/>
<line x1="116.00" y1="503.00" x2="188.60" y2="503.00" stroke="#111" stroke-width="1.6"/>
<text x="153.80" y="504.00" font-size="17" text-anchor="middle" font-weight="bold" fill="#111" stroke="#111" stroke-width="0.0" textLength="23.5" lengthAdjust="spacingAndGlyphs" >***</text>
<text x="45.00" y="645.60" font-size="11.5" text-anchor="start" font-weight="normal" fill="#111" stroke="#111" stroke-width="0.3" textLength="27.5" lengthAdjust="spacingAndGlyphs" >CMV</text>
<text x="116.20" y="645.60" font-size="11.5" text-anchor="middle" font-weight="normal" fill="#111" stroke="#111" stroke-width="0.3" >no</text>
<text x="187.30" y="645.60" font-size="11.5" text-anchor="middle" font-weight="normal" fill="#111" stroke="#111" stroke-width="0.3" >yes</text>
<text x="264.60" y="13.80" font-size="18" text-anchor="start" font-weight="bold" fill="#111" stroke="#111" stroke-width="0.0" >C</text>
<line x1="289.20" y1="19.00" x2="289.20" y2="167.80" stroke="#5c5c5c" stroke-width="1.7"/>
<path d="M289.1 12.2 L292.9 21.2 L289.1 19.2 L285.3 21.2 Z" fill="#111"/>
<line x1="289.30" y1="363.00" x2="289.30" y2="533.00" stroke="#5c5c5c" stroke-width="1.7"/>
<text transform="translate(293.2,347) rotate(-90)" font-size="17.5" fill="#111" stroke="#111" stroke-width="0.3" textLength="152.5" lengthAdjust="spacingAndGlyphs">% of NK cell subset</text>
<text x="338.60" y="33.80" font-size="14" text-anchor="start" font-weight="normal" fill="#111" stroke="#111" stroke-width="0.3" textLength="55.2" lengthAdjust="spacingAndGlyphs" >NKG2A+</text>
<line x1="327.10" y1="15.10" x2="327.10" y2="181.40" stroke="#111" stroke-width="1.7"/>
<line x1="326.30" y1="180.60" x2="516.80" y2="180.60" stroke="#111" stroke-width="1.7"/>
<line x1="327.10" y1="15.80" x2="329.30" y2="15.80" stroke="#111" stroke-width="1.3"/>
<text x="314.00" y="18.50" font-size="14" text-anchor="middle" font-weight="normal" fill="#111" stroke="#111" stroke-width="0.3" textLength="21.3" lengthAdjust="spacingAndGlyphs" >100</text>
<line x1="327.10" y1="49.00" x2="329.30" y2="49.00" stroke="#111" stroke-width="1.3"/>
<text x="314.00" y="52.30" font-size="14" text-anchor="middle" font-weight="normal" fill="#111" stroke="#111" stroke-width="0.3" textLength="14.5" lengthAdjust="spacingAndGlyphs" >80</text>
<line x1="327.10" y1="81.80" x2="329.30" y2="81.80" stroke="#111" stroke-width="1.3"/>
<text x="314.00" y="85.10" font-size="14" text-anchor="middle" font-weight="normal" fill="#111" stroke="#111" stroke-width="0.3" textLength="14.5" lengthAdjust="spacingAndGlyphs" >60</text>
<line x1="327.10" y1="114.90" x2="329.30" y2="114.90" stroke="#111" stroke-width="1.3"/>
<text x="314.00" y="118.20" font-size="14" text-anchor="middle" font-weight="normal" fill="#111" stroke="#111" stroke-width="0.3" textLength="14.5" lengthAdjust="spacingAndGlyphs" >40</text>
<line x1="327.10" y1="148.10" x2="329.30" y2="148.10" stroke="#111" stroke-width="1.3"/>
<text x="314.00" y="151.40" font-size="14" text-anchor="middle" font-weight="normal" fill="#111" stroke="#111" stroke-width="0.3" textLength="14.5" lengthAdjust="spacingAndGlyphs" >20</text>
<path fill="#111" d="M421.30 180.40V168.20h1.90V180.40zM469.50 180.40V153.30h1.80V180.40zM493.20 180.40V148.40h1.80V180.40zM510.90 180.40V131.30h1.80V180.40zM513.20 180.40V141.00h2.60V180.40zM327.50 180.40V179.50h1.24V180.40zM328.44 180.40V179.50h1.24V180.40zM329.38 180.40V179.50h1.24V180.40zM330.31 180.40V179.50h1.24V180.40zM331.25 180.40V179.50h1.24V180.40zM332.19 180.40V179.50h1.24V180.40zM333.12 180.40V179.50h1.24V180.40zM334.06 180.40V179.50h1.24V180.40zM335.00 180.40V179.50h1.24V180.40zM335.94 180.40V179.50h1.24V180.40zM336.88 180.40V179.50h1.24V180.40zM337.81 180.40V179.50h1.24V180.40zM338.75 180.40V179.50h1.24V180.40zM339.69 180.40V179.50h1.24V180.40zM340.62 180.40V179.50h1.24V180.40zM341.56 180.40V179.50h1.24V180.40zM342.50 180.40V179.50h1.24V180.40zM343.44 180.40V179.50h1.24V180.40zM344.38 180.40V179.50h1.24V180.40zM345.31 180.40V179.50h1.24V180.40zM346.25 180.40V179.50h1.24V180.40zM347.19 180.40V179.50h1.24V180.40zM348.12 180.40V179.50h1.24V180.40zM349.06 180.40V179.50h1.24V180.40zM350.00 180.40V179.50h1.24V180.40zM350.94 180.40V179.50h1.24V180.40zM351.88 180.40V179.50h1.24V180.40zM352.81 180.40V179.50h1.24V180.40zM353.75 180.40V179.50h1.24V180.40zM354.69 180.40V179.50h1.24V180.40zM355.62 180.40V179.49h1.24V180.40zM356.56 180.40V179.47h1.24V180.40zM357.50 180.40V179.50h1.24V180.40zM358.44 180.40V179.50h1.24V180.40zM359.38 180.40V179.48h1.24V180.40zM360.31 180.40V179.50h1.24V180.40zM361.25 180.40V179.34h1.24V180.40zM362.19 180.40V179.48h1.24V180.40zM363.12 180.40V179.29h1.24V180.40zM364.06 180.40V179.47h1.24V180.40zM365.00 180.40V178.73h1.30V180.40zM366.00 180.40V178.15h1.21V180.40zM366.91 180.40V178.00h1.21V180.40zM367.82 180.40V178.21h1.21V180.40zM368.73 180.40V178.37h1.21V180.40zM369.64 180.40V177.74h1.21V180.40zM370.55 180.40V178.13h1.21V180.40zM371.45 180.40V178.16h1.21V180.40zM372.36 180.40V178.11h1.21V180.40zM373.27 180.40V177.95h1.21V180.40zM374.18 180.40V178.00h1.21V180.40zM375.09 180.40V177.82h1.21V180.40zM376.00 180.40V178.60h1.30V180.40zM377.50 180.40V179.36h1.23V180.40zM378.43 180.40V178.97h1.23V180.40zM379.36 180.40V178.84h1.23V180.40zM380.29 180.40V179.11h1.23V180.40zM381.21 180.40V178.53h1.23V180.40zM382.14 180.40V178.32h1.23V180.40zM383.07 180.40V178.24h1.23V180.40zM384.00 180.40V178.53h1.30V180.40zM385.00 180.40V177.77h1.30V180.40zM386.00 180.40V178.27h1.30V180.40zM387.00 180.40V177.48h1.30V180.40zM388.00 180.40V177.23h1.30V180.40zM389.00 180.40V177.64h1.30V180.40zM390.00 180.40V177.02h1.30V180.40zM391.00 180.40V177.59h1.30V180.40zM392.00 180.40V176.04h1.30V180.40zM393.00 180.40V175.69h1.30V180.40zM394.00 180.40V175.92h1.20V180.40zM394.90 180.40V175.29h1.20V180.40zM395.80 180.40V175.80h1.20V180.40zM396.70 180.40V175.06h1.20V180.40zM397.60 180.40V174.61h1.20V180.40zM398.50 180.40V177.54h1.30V180.40zM400.00 180.40V179.50h1.30V180.40zM401.00 180.40V179.50h1.30V180.40zM402.00 180.40V179.50h1.30V180.40zM403.00 180.40V179.50h1.30V180.40zM404.00 180.40V179.50h1.30V180.40zM405.00 180.40V179.50h1.30V180.40zM406.00 180.40V179.41h1.30V180.40zM407.00 180.40V179.17h1.17V180.40zM407.87 180.40V178.20h1.17V180.40zM408.73 180.40V176.91h1.17V180.40zM409.60 180.40V176.18h1.21V180.40zM410.51 180.40V177.55h1.21V180.40zM411.43 180.40V176.05h1.21V180.40zM412.34 180.40V175.61h1.21V180.40zM413.26 180.40V175.67h1.21V180.40zM414.17 180.40V175.87h1.21V180.40zM415.09 180.40V175.85h1.21V180.40zM416.00 180.40V175.94h1.30V180.40zM417.00 180.40V175.58h1.30V180.40zM418.00 180.40V174.74h1.30V180.40zM419.00 180.40V173.06h1.30V180.40zM420.00 180.40V171.46h1.30V180.40zM421.00 180.40V173.21h1.40V180.40zM422.10 180.40V173.14h1.40V180.40zM423.80 180.40V179.50h1.25V180.40zM424.75 180.40V179.50h1.25V180.40zM425.69 180.40V179.50h1.25V180.40zM426.64 180.40V179.50h1.25V180.40zM427.59 180.40V179.50h1.25V180.40zM428.53 180.40V179.49h1.25V180.40zM429.48 180.40V179.50h1.25V180.40zM430.43 180.40V179.50h1.25V180.40zM431.37 180.40V179.46h1.25V180.40zM432.32 180.40V179.50h1.25V180.40zM433.27 180.40V179.41h1.25V180.40zM434.21 180.40V179.50h1.25V180.40zM435.16 180.40V179.50h1.25V180.40zM436.11 180.40V179.32h1.25V180.40zM437.05 180.40V179.32h1.25V180.40zM438.00 180.40V178.90h1.30V180.40zM439.00 180.40V178.29h1.30V180.40zM440.00 180.40V177.50h1.30V180.40zM441.00 180.40V177.06h1.30V180.40zM442.00 180.40V177.48h1.30V180.40zM443.00 180.40V178.08h1.30V180.40zM444.00 180.40V177.89h1.30V180.40zM445.00 180.40V177.39h1.30V180.40zM446.00 180.40V177.91h1.30V180.40zM447.00 180.40V177.45h1.30V180.40zM448.00 180.40V177.66h1.30V180.40zM449.50 180.40V179.29h1.22V180.40zM450.42 180.40V179.28h1.22V180.40zM451.33 180.40V179.27h1.22V180.40zM452.25 180.40V178.69h1.22V180.40zM453.17 180.40V178.69h1.22V180.40zM454.08 180.40V178.48h1.22V180.40zM455.00 180.40V178.12h1.30V180.40zM456.00 180.40V176.78h1.35V180.40zM457.05 180.40V176.46h1.35V180.40zM458.10 180.40V175.32h1.35V180.40zM459.15 180.40V173.92h1.35V180.40zM460.20 180.40V176.03h1.23V180.40zM461.13 180.40V172.37h1.23V180.40zM462.07 180.40V173.91h1.23V180.40zM463.00 180.40V168.74h1.16V180.40zM463.86 180.40V170.60h1.16V180.40zM464.72 180.40V167.76h1.16V180.40zM465.58 180.40V168.59h1.16V180.40zM466.44 180.40V167.81h1.16V180.40zM467.30 180.40V164.32h1.40V180.40zM468.40 180.40V158.80h1.40V180.40zM469.50 180.40V157.48h1.15V180.40zM470.35 180.40V156.52h1.15V180.40zM471.80 180.40V179.39h1.20V180.40zM472.70 180.40V179.35h1.20V180.40zM473.60 180.40V179.50h1.20V180.40zM474.50 180.40V179.37h1.20V180.40zM475.40 180.40V179.40h1.20V180.40zM476.30 180.40V179.46h1.20V180.40zM477.20 180.40V179.09h1.20V180.40zM478.10 180.40V179.33h1.20V180.40zM479.00 180.40V178.66h1.17V180.40zM479.87 180.40V177.61h1.17V180.40zM480.73 180.40V176.29h1.17V180.40zM481.60 180.40V175.41h1.25V180.40zM482.55 180.40V174.14h1.25V180.40zM483.50 180.40V176.63h1.25V180.40zM484.45 180.40V174.12h1.25V180.40zM485.40 180.40V171.88h1.25V180.40zM486.35 180.40V173.22h1.25V180.40zM487.30 180.40V169.08h1.35V180.40zM488.35 180.40V171.82h1.35V180.40zM489.40 180.40V166.44h1.35V180.40zM490.45 180.40V164.96h1.35V180.40zM491.50 180.40V162.13h1.05V180.40zM492.25 180.40V159.66h1.05V180.40zM493.00 180.40V163.85h1.30V180.40zM494.00 180.40V164.52h1.30V180.40zM495.60 180.40V179.43h1.21V180.40zM496.51 180.40V179.49h1.21V180.40zM497.43 180.40V179.34h1.21V180.40zM498.34 180.40V179.09h1.21V180.40zM499.26 180.40V179.31h1.21V180.40zM500.17 180.40V179.10h1.21V180.40zM501.09 180.40V179.24h1.21V180.40zM502.00 180.40V176.95h1.45V180.40zM503.15 180.40V173.77h1.45V180.40zM504.30 180.40V167.43h1.70V180.40zM505.70 180.40V163.91h1.40V180.40zM506.80 180.40V160.76h1.40V180.40zM507.90 180.40V164.22h1.40V180.40zM509.00 180.40V153.26h1.15V180.40zM509.85 180.40V139.45h1.15V180.40zM510.70 180.40V135.04h1.40V180.40zM511.80 180.40V139.06h1.40V180.40zM512.90 180.40V140.96h1.70V180.40zM514.30 180.40V147.18h1.40V180.40zM515.40 180.40V154.26h1.40V180.40zM386.09 175.94h1.6v1.6h-1.6zM387.17 176.28h1.6v1.6h-1.6zM393.98 174.86h1.6v1.6h-1.6zM394.88 173.79h1.6v1.6h-1.6zM396.08 174.26h1.6v1.6h-1.6zM409.46 174.89h1.6v1.6h-1.6zM411.51 174.53h1.6v1.6h-1.6zM413.51 174.49h1.6v1.6h-1.6zM417.16 174.49h1.6v1.6h-1.6zM418.89 171.54h1.6v1.6h-1.6zM419.72 169.40h1.6v1.6h-1.6zM421.06 170.08h1.6v1.6h-1.6zM422.19 171.58h1.6v1.6h-1.6zM441.13 175.55h1.6v1.6h-1.6zM442.80 176.04h1.6v1.6h-1.6zM444.04 176.45h1.6v1.6h-1.6zM444.92 175.90h1.6v1.6h-1.6zM446.17 176.49h1.6v1.6h-1.6zM456.98 173.89h1.6v1.6h-1.6zM459.20 172.34h1.6v1.6h-1.6zM461.32 169.27h1.6v1.6h-1.6zM462.25 169.91h1.6v1.6h-1.6zM464.02 167.00h1.6v1.6h-1.6zM465.70 167.27h1.6v1.6h-1.6zM466.74 166.76h1.6v1.6h-1.6zM467.01 162.63h1.6v1.6h-1.6zM481.03 174.53h1.6v1.6h-1.6zM481.84 173.52h1.6v1.6h-1.6zM483.76 172.53h1.6v1.6h-1.6zM485.39 170.72h1.6v1.6h-1.6zM489.19 164.94h1.6v1.6h-1.6zM490.24 163.65h1.6v1.6h-1.6zM491.74 160.32h1.6v1.6h-1.6zM492.10 156.41h1.6v1.6h-1.6zM492.73 148.69h1.6v1.6h-1.6zM503.15 171.97h1.6v1.6h-1.6zM507.02 158.95h1.6v1.6h-1.6zM507.82 158.27h1.6v1.6h-1.6zM509.59 136.96h1.6v1.6h-1.6zM511.52 133.58h1.6v1.6h-1.6zM514.17 143.98h1.6v1.6h-1.6z"/>
<path fill="#fff" d="M394.15 177.67h0.95v0.95h-0.95zM396.05 177.38h0.95v0.95h-0.95zM420.20 173.59h0.95v0.95h-0.95zM421.91 177.75h0.95v0.95h-0.95zM462.52 175.78h0.95v0.95h-0.95zM463.33 176.19h0.95v0.95h-0.95zM466.79 172.33h0.95v0.95h-0.95zM467.44 167.07h0.95v0.95h-0.95zM469.43 174.40h0.95v0.95h-0.95zM485.30 177.08h0.95v0.95h-0.95zM486.80 178.25h0.95v0.95h-0.95zM487.17 174.68h0.95v0.95h-0.95zM489.59 170.58h0.95v0.95h-0.95zM491.93 177.53h0.95v0.95h-0.95zM492.75 160.82h0.95v0.95h-0.95zM494.38 178.38h0.95v0.95h-0.95zM506.93 163.25h0.95v0.95h-0.95zM507.70 170.56h0.95v0.95h-0.95zM509.41 158.69h0.95v0.95h-0.95zM510.66 137.42h0.95v0.95h-0.95zM511.61 170.92h0.95v0.95h-0.95zM513.20 146.72h0.95v0.95h-0.95zM514.51 174.26h0.95v0.95h-0.95zM515.86 159.29h0.95v0.95h-0.95z"/>
<g fill="#111"><circle cx="386.6" cy="174.4" r="0.95"/><circle cx="398.5" cy="171.8" r="0.95"/><circle cx="419.4" cy="162.3" r="0.95"/><circle cx="422.4" cy="159.2" r="0.95"/><circle cx="463" cy="161.9" r="0.95"/><circle cx="493.8" cy="146" r="0.95"/><circle cx="493.8" cy="151" r="0.95"/><circle cx="511.5" cy="129" r="0.95"/></g>
<g fill="#c81c2e"><circle cx="470.2" cy="117.4" r="1.65"/><circle cx="516.4" cy="142" r="1.65"/><circle cx="516.4" cy="145.5" r="1.65"/><circle cx="516.8" cy="148.4" r="1.65"/></g>
<g fill="#2a2fa0"><circle cx="515.7" cy="157" r="1.7"/><circle cx="516.8" cy="159" r="1.7"/></g>
<text x="336.20" y="217.70" font-size="14" text-anchor="start" font-weight="normal" fill="#111" stroke="#111" stroke-width="0.3" textLength="51.8" lengthAdjust="spacingAndGlyphs" >NKG2A-</text>
<text x="336.20" y="234.20" font-size="14" text-anchor="start" font-weight="normal" fill="#111" stroke="#111" stroke-width="0.3" textLength="53.0" lengthAdjust="spacingAndGlyphs" >NKG2C-</text>
<line x1="327.60" y1="201.10" x2="327.60" y2="366.80" stroke="#111" stroke-width="1.7"/>
<line x1="326.80" y1="366.00" x2="516.80" y2="366.00" stroke="#111" stroke-width="1.7"/>
<line x1="327.60" y1="201.90" x2="329.80" y2="201.90" stroke="#111" stroke-width="1.3"/>
<text x="312.20" y="204.60" font-size="14" text-anchor="middle" font-weight="normal" fill="#111" stroke="#111" stroke-width="0.3" textLength="21.2" lengthAdjust="spacingAndGlyphs" >100</text>
<line x1="327.60" y1="234.60" x2="329.80" y2="234.60" stroke="#111" stroke-width="1.3"/>
<text x="312.20" y="237.90" font-size="14" text-anchor="middle" font-weight="normal" fill="#111" stroke="#111" stroke-width="0.3" textLength="14.6" lengthAdjust="spacingAndGlyphs" >80</text>
<line x1="327.60" y1="267.50" x2="329.80" y2="267.50" stroke="#111" stroke-width="1.3"/>
<text x="312.20" y="270.80" font-size="14" text-anchor="middle" font-weight="normal" fill="#111" stroke="#111" stroke-width="0.3" textLength="14.6" lengthAdjust="spacingAndGlyphs" >60</text>
<line x1="327.60" y1="300.40" x2="329.80" y2="300.40" stroke="#111" stroke-width="1.3"/>
<text x="312.20" y="303.70" font-size="14" text-anchor="middle" font-weight="normal" fill="#111" stroke="#111" stroke-width="0.3" textLength="14.6" lengthAdjust="spacingAndGlyphs" >40</text>
<line x1="327.60" y1="333.30" x2="329.80" y2="333.30" stroke="#111" stroke-width="1.3"/>
<text x="312.20" y="336.60" font-size="14" text-anchor="middle" font-weight="normal" fill="#111" stroke="#111" stroke-width="0.3" textLength="14.6" lengthAdjust="spacingAndGlyphs" >20</text>
<path fill="#111" d="M373.60 365.80V353.00h1.80V365.80zM385.70 365.80V353.80h1.80V365.80zM397.95 365.80V346.30h1.80V365.80zM421.00 365.80V339.60h2.30V365.80zM468.50 365.80V333.20h2.30V365.80zM492.60 365.80V334.60h2.20V365.80zM511.95 365.80V334.60h1.80V365.80zM328.00 365.80V364.15h1.24V365.80zM328.94 365.80V364.11h1.24V365.80zM329.89 365.80V363.82h1.24V365.80zM330.83 365.80V363.98h1.24V365.80zM331.78 365.80V364.04h1.24V365.80zM332.72 365.80V363.66h1.24V365.80zM333.67 365.80V363.73h1.24V365.80zM334.61 365.80V364.00h1.24V365.80zM335.56 365.80V364.04h1.24V365.80zM336.50 365.80V363.95h1.24V365.80zM337.44 365.80V363.85h1.24V365.80zM338.39 365.80V363.43h1.24V365.80zM339.33 365.80V363.53h1.24V365.80zM340.28 365.80V363.41h1.24V365.80zM341.22 365.80V363.45h1.24V365.80zM342.17 365.80V363.40h1.24V365.80zM343.11 365.80V363.97h1.24V365.80zM344.06 365.80V363.59h1.24V365.80zM345.00 365.80V363.73h1.25V365.80zM345.95 365.80V362.16h1.25V365.80zM346.90 365.80V361.59h1.25V365.80zM347.85 365.80V362.33h1.25V365.80zM348.80 365.80V361.48h1.25V365.80zM349.75 365.80V359.53h1.18V365.80zM350.62 365.80V359.86h1.18V365.80zM351.50 365.80V361.49h1.18V365.80zM352.38 365.80V360.66h1.18V365.80zM353.25 365.80V360.95h1.18V365.80zM354.12 365.80V361.81h1.18V365.80zM355.00 365.80V361.10h1.30V365.80zM356.00 365.80V361.24h1.30V365.80zM357.00 365.80V361.04h1.30V365.80zM358.00 365.80V360.82h1.30V365.80zM359.00 365.80V360.97h1.30V365.80zM360.00 365.80V360.62h1.30V365.80zM361.00 365.80V362.09h1.30V365.80zM362.00 365.80V361.00h1.30V365.80zM363.00 365.80V359.82h1.30V365.80zM364.00 365.80V359.54h1.30V365.80zM365.00 365.80V359.23h1.30V365.80zM366.00 365.80V361.55h1.30V365.80zM367.00 365.80V359.10h1.30V365.80zM368.00 365.80V358.75h1.30V365.80zM369.00 365.80V358.37h1.30V365.80zM370.00 365.80V357.02h1.30V365.80zM371.00 365.80V356.97h1.30V365.80zM372.00 365.80V356.09h1.15V365.80zM372.85 365.80V359.89h1.15V365.80zM373.70 365.80V356.76h1.15V365.80zM374.55 365.80V359.57h1.15V365.80zM376.00 365.80V362.08h1.30V365.80zM377.00 365.80V363.31h1.30V365.80zM378.00 365.80V361.62h1.30V365.80zM379.00 365.80V362.10h1.30V365.80zM380.00 365.80V361.58h1.20V365.80zM380.90 365.80V361.41h1.20V365.80zM381.80 365.80V361.47h1.20V365.80zM382.70 365.80V359.67h1.20V365.80zM383.60 365.80V357.33h1.20V365.80zM384.50 365.80V357.37h1.20V365.80zM385.40 365.80V353.24h1.17V365.80zM386.27 365.80V355.01h1.17V365.80zM387.13 365.80V355.55h1.17V365.80zM388.00 365.80V355.54h1.23V365.80zM388.93 365.80V355.24h1.23V365.80zM389.87 365.80V357.31h1.23V365.80zM390.80 365.80V357.94h1.20V365.80zM391.70 365.80V358.81h1.20V365.80zM392.60 365.80V355.05h1.20V365.80zM393.50 365.80V357.68h1.20V365.80zM394.40 365.80V352.08h1.20V365.80zM395.30 365.80V350.11h1.20V365.80zM396.20 365.80V349.00h1.40V365.80zM397.30 365.80V356.16h1.40V365.80zM398.40 365.80V348.55h1.40V365.80zM400.00 365.80V363.88h1.05V365.80zM400.75 365.80V363.85h1.05V365.80zM401.50 365.80V363.40h1.20V365.80zM402.40 365.80V363.55h1.20V365.80zM403.30 365.80V363.50h1.20V365.80zM404.20 365.80V362.56h1.23V365.80zM405.13 365.80V361.92h1.23V365.80zM406.07 365.80V361.58h1.23V365.80zM407.00 365.80V361.55h1.17V365.80zM407.87 365.80V358.38h1.17V365.80zM408.73 365.80V355.61h1.17V365.80zM409.60 365.80V355.39h1.20V365.80zM410.50 365.80V356.39h1.20V365.80zM411.40 365.80V355.61h1.20V365.80zM412.30 365.80V355.51h1.20V365.80zM413.20 365.80V353.93h1.20V365.80zM414.10 365.80V353.71h1.20V365.80zM415.00 365.80V352.80h1.20V365.80zM415.90 365.80V351.84h1.20V365.80zM416.80 365.80V354.57h1.20V365.80zM417.70 365.80V351.95h1.20V365.80zM418.60 365.80V347.86h1.20V365.80zM419.50 365.80V346.98h1.20V365.80zM420.40 365.80V347.35h1.33V365.80zM421.43 365.80V346.89h1.33V365.80zM422.47 365.80V346.75h1.33V365.80zM424.20 365.80V364.90h1.27V365.80zM425.17 365.80V364.82h1.27V365.80zM426.14 365.80V364.88h1.27V365.80zM427.11 365.80V364.54h1.27V365.80zM428.09 365.80V364.42h1.27V365.80zM429.06 365.80V364.34h1.27V365.80zM430.03 365.80V364.02h1.27V365.80zM431.00 365.80V363.46h1.23V365.80zM431.93 365.80V362.69h1.23V365.80zM432.87 365.80V361.88h1.23V365.80zM433.80 365.80V361.33h1.20V365.80zM434.70 365.80V362.29h1.20V365.80zM435.60 365.80V360.62h1.20V365.80zM436.50 365.80V359.64h1.20V365.80zM437.40 365.80V361.61h1.20V365.80zM438.30 365.80V359.41h1.20V365.80zM439.20 365.80V361.66h1.20V365.80zM440.10 365.80V359.24h1.20V365.80zM441.00 365.80V356.97h1.20V365.80zM441.90 365.80V356.10h1.20V365.80zM442.80 365.80V356.57h1.20V365.80zM443.70 365.80V355.76h1.20V365.80zM444.60 365.80V355.95h1.20V365.80zM445.50 365.80V357.57h1.20V365.80zM446.40 365.80V356.41h1.20V365.80zM447.30 365.80V360.58h1.20V365.80zM448.20 365.80V357.08h1.20V365.80zM449.10 365.80V357.22h1.20V365.80zM450.50 365.80V360.93h1.37V365.80zM451.57 365.80V358.83h1.37V365.80zM452.63 365.80V359.88h1.37V365.80zM453.70 365.80V356.88h1.23V365.80zM454.63 365.80V354.95h1.23V365.80zM455.57 365.80V352.49h1.23V365.80zM456.50 365.80V350.94h1.27V365.80zM457.47 365.80V352.42h1.27V365.80zM458.43 365.80V348.44h1.27V365.80zM459.40 365.80V347.39h1.27V365.80zM460.37 365.80V349.99h1.27V365.80zM461.33 365.80V344.23h1.27V365.80zM462.30 365.80V345.89h1.27V365.80zM463.27 365.80V341.61h1.27V365.80zM464.23 365.80V340.28h1.27V365.80zM465.20 365.80V344.69h1.27V365.80zM466.17 365.80V339.11h1.27V365.80zM467.13 365.80V339.05h1.27V365.80zM468.10 365.80V343.60h1.20V365.80zM469.00 365.80V334.49h1.20V365.80zM469.90 365.80V337.15h1.20V365.80zM471.40 365.80V363.95h1.13V365.80zM472.23 365.80V364.19h1.13V365.80zM473.07 365.80V363.79h1.13V365.80zM473.90 365.80V363.57h1.23V365.80zM474.83 365.80V362.29h1.23V365.80zM475.77 365.80V361.57h1.23V365.80zM476.70 365.80V360.46h1.27V365.80zM477.67 365.80V362.43h1.27V365.80zM478.63 365.80V359.27h1.27V365.80zM479.60 365.80V359.05h1.27V365.80zM480.57 365.80V358.06h1.27V365.80zM481.53 365.80V354.63h1.27V365.80zM482.50 365.80V353.45h1.27V365.80zM483.47 365.80V352.03h1.27V365.80zM484.43 365.80V356.01h1.27V365.80zM485.40 365.80V349.18h1.27V365.80zM486.37 365.80V351.11h1.27V365.80zM487.33 365.80V348.70h1.27V365.80zM488.30 365.80V349.19h1.27V365.80zM489.27 365.80V346.26h1.27V365.80zM490.23 365.80V344.41h1.27V365.80zM491.20 365.80V347.24h1.60V365.80zM495.60 365.80V363.85h1.23V365.80zM496.53 365.80V363.78h1.23V365.80zM497.47 365.80V364.01h1.23V365.80zM498.40 365.80V363.46h1.27V365.80zM499.37 365.80V362.08h1.27V365.80zM500.33 365.80V363.39h1.27V365.80zM501.30 365.80V361.12h1.27V365.80zM502.27 365.80V357.88h1.27V365.80zM503.23 365.80V357.69h1.27V365.80zM504.20 365.80V355.36h1.23V365.80zM505.13 365.80V350.61h1.23V365.80zM506.07 365.80V347.66h1.23V365.80zM507.00 365.80V354.29h1.30V365.80zM508.00 365.80V344.79h1.30V365.80zM509.00 365.80V344.04h1.30V365.80zM510.00 365.80V348.51h1.35V365.80zM511.05 365.80V348.30h1.35V365.80zM512.10 365.80V336.72h1.40V365.80zM513.20 365.80V337.11h1.40V365.80zM514.30 365.80V342.97h1.45V365.80zM515.45 365.80V335.83h1.45V365.80zM345.08 362.12h1.6v1.6h-1.6zM345.95 360.85h1.6v1.6h-1.6zM348.66 358.84h1.6v1.6h-1.6zM350.50 358.04h1.6v1.6h-1.6zM352.16 359.13h1.6v1.6h-1.6zM353.28 359.87h1.6v1.6h-1.6zM355.07 359.73h1.6v1.6h-1.6zM355.93 359.75h1.6v1.6h-1.6zM357.88 359.01h1.6v1.6h-1.6zM359.77 358.96h1.6v1.6h-1.6zM360.91 360.24h1.6v1.6h-1.6zM365.05 357.77h1.6v1.6h-1.6zM366.22 358.06h1.6v1.6h-1.6zM366.88 357.39h1.6v1.6h-1.6zM368.21 356.91h1.6v1.6h-1.6zM369.05 357.18h1.6v1.6h-1.6zM370.20 355.53h1.6v1.6h-1.6zM377.30 360.94h1.6v1.6h-1.6zM379.11 359.78h1.6v1.6h-1.6zM383.81 356.07h1.6v1.6h-1.6zM384.36 354.41h1.6v1.6h-1.6zM386.46 353.06h1.6v1.6h-1.6zM388.24 354.37h1.6v1.6h-1.6zM388.98 353.05h1.6v1.6h-1.6zM390.08 353.14h1.6v1.6h-1.6zM391.08 354.24h1.6v1.6h-1.6zM391.53 353.31h1.6v1.6h-1.6zM394.31 349.24h1.6v1.6h-1.6zM395.42 348.93h1.6v1.6h-1.6zM398.26 346.34h1.6v1.6h-1.6zM406.28 360.44h1.6v1.6h-1.6zM407.70 357.02h1.6v1.6h-1.6zM409.70 353.38h1.6v1.6h-1.6zM410.41 353.28h1.6v1.6h-1.6zM412.18 354.14h1.6v1.6h-1.6zM414.30 352.71h1.6v1.6h-1.6zM416.75 349.56h1.6v1.6h-1.6zM418.33 346.36h1.6v1.6h-1.6zM420.22 345.18h1.6v1.6h-1.6zM431.67 361.53h1.6v1.6h-1.6zM433.72 359.85h1.6v1.6h-1.6zM434.99 359.58h1.6v1.6h-1.6zM435.41 359.13h1.6v1.6h-1.6zM437.18 359.88h1.6v1.6h-1.6zM439.99 356.10h1.6v1.6h-1.6zM443.45 353.82h1.6v1.6h-1.6zM444.73 354.61h1.6v1.6h-1.6zM445.51 354.67h1.6v1.6h-1.6zM447.34 357.33h1.6v1.6h-1.6zM448.48 355.35h1.6v1.6h-1.6zM452.35 356.73h1.6v1.6h-1.6zM453.65 355.37h1.6v1.6h-1.6zM454.87 353.70h1.6v1.6h-1.6zM455.60 350.86h1.6v1.6h-1.6zM458.71 347.30h1.6v1.6h-1.6zM459.32 346.15h1.6v1.6h-1.6zM462.44 343.37h1.6v1.6h-1.6zM463.45 339.67h1.6v1.6h-1.6zM466.92 336.52h1.6v1.6h-1.6zM468.21 334.63h1.6v1.6h-1.6zM469.07 332.54h1.6v1.6h-1.6zM469.88 334.63h1.6v1.6h-1.6zM476.72 358.98h1.6v1.6h-1.6zM479.82 356.01h1.6v1.6h-1.6zM481.48 353.07h1.6v1.6h-1.6zM482.41 352.09h1.6v1.6h-1.6zM483.35 350.42h1.6v1.6h-1.6zM487.46 346.96h1.6v1.6h-1.6zM488.58 345.09h1.6v1.6h-1.6zM489.49 343.78h1.6v1.6h-1.6zM490.93 343.61h1.6v1.6h-1.6zM501.09 359.81h1.6v1.6h-1.6zM502.32 356.51h1.6v1.6h-1.6zM503.09 354.89h1.6v1.6h-1.6zM504.49 352.43h1.6v1.6h-1.6zM505.12 349.60h1.6v1.6h-1.6zM505.82 346.26h1.6v1.6h-1.6zM507.14 351.68h1.6v1.6h-1.6zM507.91 343.45h1.6v1.6h-1.6zM508.74 342.48h1.6v1.6h-1.6zM510.91 344.54h1.6v1.6h-1.6zM513.42 334.33h1.6v1.6h-1.6zM514.53 338.05h1.6v1.6h-1.6zM515.37 334.01h1.6v1.6h-1.6z"/>
<path fill="#fff" d="M352.38 363.52h0.95v0.95h-0.95zM371.20 363.52h0.95v0.95h-0.95zM374.63 362.59h0.95v0.95h-0.95zM378.48 363.43h0.95v0.95h-0.95zM383.05 362.51h0.95v0.95h-0.95zM385.73 362.30h0.95v0.95h-0.95zM392.53 361.02h0.95v0.95h-0.95zM393.57 361.07h0.95v0.95h-0.95zM394.37 360.76h0.95v0.95h-0.95zM395.19 353.20h0.95v0.95h-0.95zM396.26 353.83h0.95v0.95h-0.95zM407.86 360.63h0.95v0.95h-0.95zM412.55 361.53h0.95v0.95h-0.95zM415.35 362.69h0.95v0.95h-0.95zM416.22 359.49h0.95v0.95h-0.95zM417.80 356.23h0.95v0.95h-0.95zM420.67 352.88h0.95v0.95h-0.95zM422.84 358.45h0.95v0.95h-0.95zM433.61 363.69h0.95v0.95h-0.95zM437.79 362.88h0.95v0.95h-0.95zM444.18 360.68h0.95v0.95h-0.95zM445.00 358.04h0.95v0.95h-0.95zM452.75 361.82h0.95v0.95h-0.95zM454.61 357.03h0.95v0.95h-0.95zM456.61 362.93h0.95v0.95h-0.95zM457.77 353.51h0.95v0.95h-0.95zM459.41 360.52h0.95v0.95h-0.95zM461.67 357.46h0.95v0.95h-0.95zM463.24 349.49h0.95v0.95h-0.95zM464.11 363.33h0.95v0.95h-0.95zM469.43 357.68h0.95v0.95h-0.95zM482.03 361.16h0.95v0.95h-0.95zM482.62 355.65h0.95v0.95h-0.95zM482.70 359.63h0.95v0.95h-0.95zM486.36 353.29h0.95v0.95h-0.95zM487.56 360.98h0.95v0.95h-0.95zM488.71 352.79h0.95v0.95h-0.95zM506.22 362.89h0.95v0.95h-0.95zM505.99 355.39h0.95v0.95h-0.95zM507.34 363.55h0.95v0.95h-0.95zM514.42 351.95h0.95v0.95h-0.95z"/>
<g fill="#111"><circle cx="369.75" cy="353" r="0.95"/><circle cx="370.4" cy="357" r="0.95"/><circle cx="387" cy="344.75" r="0.95"/><circle cx="388.25" cy="348.5" r="0.95"/><circle cx="387.5" cy="344.7" r="0.95"/><circle cx="388.3" cy="348.6" r="0.95"/><circle cx="391.4" cy="352.4" r="0.95"/><circle cx="410.7" cy="343.7" r="0.95"/><circle cx="421.4" cy="336.3" r="0.95"/><circle cx="442.2" cy="342.4" r="0.95"/><circle cx="444.5" cy="344" r="0.95"/><circle cx="443.8" cy="350.9" r="0.95"/></g>
<g fill="#111"><circle cx="386.7" cy="345" r="0.95"/><circle cx="388.7" cy="348.4" r="0.95"/><circle cx="398.8" cy="343.6" r="0.95"/><circle cx="421" cy="336.9" r="0.95"/><circle cx="463" cy="336.8" r="0.95"/><circle cx="465.9" cy="336" r="0.95"/><circle cx="484.7" cy="344" r="0.95"/></g>
<g fill="#c81c2e"><circle cx="375" cy="314" r="1.65"/><circle cx="422.4" cy="323.2" r="1.65"/><circle cx="422.4" cy="330.5" r="1.65"/><circle cx="467.4" cy="312.3" r="1.65"/><circle cx="462" cy="328.1" r="1.65"/><circle cx="468.8" cy="331.7" r="1.65"/><circle cx="492.5" cy="229.3" r="1.65"/><circle cx="486.5" cy="294.7" r="1.65"/><circle cx="492.5" cy="303.3" r="1.65"/><circle cx="494.4" cy="309.3" r="1.65"/><circle cx="492.6" cy="303.2" r="1.65"/><circle cx="494.5" cy="309.4" r="1.65"/><circle cx="494" cy="323.1" r="1.65"/><circle cx="494" cy="330" r="1.65"/><circle cx="510" cy="254.9" r="1.65"/><circle cx="516.1" cy="288.9" r="1.65"/></g>
<g fill="#2a2fa0"><circle cx="465.6" cy="330.7" r="1.7"/><circle cx="470.3" cy="331" r="1.7"/><circle cx="494" cy="326.4" r="1.7"/><circle cx="492.3" cy="333.9" r="1.7"/></g>
<text x="336.20" y="398.40" font-size="14" text-anchor="start" font-weight="normal" fill="#111" stroke="#111" stroke-width="0.3" textLength="51.8" lengthAdjust="spacingAndGlyphs" >NKG2A-</text>
<text x="336.20" y="415.00" font-size="14" text-anchor="start" font-weight="normal" fill="#111" stroke="#111" stroke-width="0.3" textLength="56.0" lengthAdjust="spacingAndGlyphs" >NKG2C+</text>
<line x1="326.20" y1="380.20" x2="326.20" y2="546.40" stroke="#111" stroke-width="1.7"/>
<line x1="325.40" y1="545.60" x2="516.80" y2="545.60" stroke="#111" stroke-width="1.7"/>
<line x1="326.20" y1="381.10" x2="328.40" y2="381.10" stroke="#111" stroke-width="1.3"/>
<text x="311.70" y="383.80" font-size="14" text-anchor="middle" font-weight="normal" fill="#111" stroke="#111" stroke-width="0.3" textLength="22.0" lengthAdjust="spacingAndGlyphs" >100</text>
<line x1="326.20" y1="413.80" x2="328.40" y2="413.80" stroke="#111" stroke-width="1.3"/>
<text x="311.70" y="417.10" font-size="14" text-anchor="middle" font-weight="normal" fill="#111" stroke="#111" stroke-width="0.3" textLength="14.2" lengthAdjust="spacingAndGlyphs" >80</text>
<line x1="326.20" y1="447.00" x2="328.40" y2="447.00" stroke="#111" stroke-width="1.3"/>
<text x="311.70" y="450.30" font-size="14" text-anchor="middle" font-weight="normal" fill="#111" stroke="#111" stroke-width="0.3" textLength="14.2" lengthAdjust="spacingAndGlyphs" >60</text>
<line x1="326.20" y1="479.70" x2="328.40" y2="479.70" stroke="#111" stroke-width="1.3"/>
<text x="311.70" y="483.00" font-size="14" text-anchor="middle" font-weight="normal" fill="#111" stroke="#111" stroke-width="0.3" textLength="14.2" lengthAdjust="spacingAndGlyphs" >40</text>
<line x1="326.20" y1="513.00" x2="328.40" y2="513.00" stroke="#111" stroke-width="1.3"/>
<text x="311.70" y="516.30" font-size="14" text-anchor="middle" font-weight="normal" fill="#111" stroke="#111" stroke-width="0.3" textLength="14.2" lengthAdjust="spacingAndGlyphs" >20</text>
<path fill="#111" d="M370.80 545.40V533.80h3.80V545.40zM397.00 545.40V523.00h1.80V545.40zM421.15 545.40V522.30h1.80V545.40zM468.15 545.40V513.30h1.80V545.40zM492.15 545.40V504.60h1.80V545.40zM327.00 545.40V544.28h1.30V545.40zM328.00 545.40V543.82h1.30V545.40zM329.00 545.40V543.59h1.30V545.40zM330.00 545.40V543.83h1.30V545.40zM331.00 545.40V543.88h1.30V545.40zM332.00 545.40V543.70h1.30V545.40zM333.00 545.40V542.92h1.30V545.40zM334.00 545.40V543.50h1.30V545.40zM335.00 545.40V542.58h1.30V545.40zM336.00 545.40V542.40h1.30V545.40zM337.00 545.40V542.36h1.30V545.40zM338.00 545.40V542.39h1.30V545.40zM339.00 545.40V542.04h1.30V545.40zM340.00 545.40V542.68h1.21V545.40zM340.91 545.40V541.72h1.21V545.40zM341.82 545.40V541.41h1.21V545.40zM342.73 545.40V541.66h1.21V545.40zM343.64 545.40V541.28h1.21V545.40zM344.55 545.40V542.92h1.21V545.40zM345.45 545.40V542.07h1.21V545.40zM346.36 545.40V541.12h1.21V545.40zM347.27 545.40V541.00h1.21V545.40zM348.18 545.40V541.46h1.21V545.40zM349.09 545.40V542.60h1.21V545.40zM350.00 545.40V542.89h1.21V545.40zM350.91 545.40V542.53h1.21V545.40zM351.82 545.40V540.47h1.21V545.40zM352.73 545.40V542.53h1.21V545.40zM353.64 545.40V539.81h1.21V545.40zM354.55 545.40V542.37h1.21V545.40zM355.45 545.40V540.44h1.21V545.40zM356.36 545.40V539.22h1.21V545.40zM357.27 545.40V540.25h1.21V545.40zM358.18 545.40V540.18h1.21V545.40zM359.09 545.40V538.63h1.21V545.40zM360.00 545.40V538.52h1.30V545.40zM361.00 545.40V538.22h1.30V545.40zM362.00 545.40V537.68h1.30V545.40zM363.00 545.40V539.62h1.30V545.40zM364.00 545.40V537.61h1.30V545.40zM365.00 545.40V537.64h1.30V545.40zM366.00 545.40V536.63h1.30V545.40zM367.00 545.40V536.98h1.30V545.40zM368.00 545.40V536.93h1.30V545.40zM369.00 545.40V536.86h1.30V545.40zM370.00 545.40V536.84h1.30V545.40zM371.00 545.40V537.61h1.30V545.40zM372.00 545.40V537.35h1.30V545.40zM373.00 545.40V537.80h1.30V545.40zM374.00 545.40V538.10h1.30V545.40zM375.50 545.40V542.21h1.20V545.40zM376.40 545.40V543.00h1.20V545.40zM377.30 545.40V542.22h1.20V545.40zM378.20 545.40V542.21h1.20V545.40zM379.10 545.40V542.21h1.20V545.40zM380.00 545.40V542.32h1.30V545.40zM381.00 545.40V541.46h1.30V545.40zM382.00 545.40V540.39h1.30V545.40zM383.00 545.40V541.20h1.30V545.40zM384.00 545.40V539.57h1.30V545.40zM385.00 545.40V538.08h1.30V545.40zM386.00 545.40V537.97h1.30V545.40zM387.00 545.40V537.30h1.30V545.40zM388.00 545.40V537.01h1.30V545.40zM389.00 545.40V536.36h1.30V545.40zM390.00 545.40V535.39h1.30V545.40zM391.00 545.40V535.01h1.30V545.40zM392.00 545.40V534.13h1.30V545.40zM393.00 545.40V534.61h1.30V545.40zM394.00 545.40V531.24h1.13V545.40zM394.83 545.40V533.24h1.13V545.40zM395.67 545.40V529.32h1.13V545.40zM396.50 545.40V528.07h1.45V545.40zM397.65 545.40V527.57h1.45V545.40zM399.50 545.40V544.02h1.05V545.40zM400.25 545.40V544.24h1.05V545.40zM401.00 545.40V543.43h1.30V545.40zM402.00 545.40V543.61h1.30V545.40zM403.00 545.40V541.52h1.30V545.40zM404.00 545.40V540.72h1.30V545.40zM405.00 545.40V541.69h1.30V545.40zM406.00 545.40V539.93h1.30V545.40zM407.00 545.40V541.79h1.30V545.40zM408.00 545.40V537.83h1.30V545.40zM409.00 545.40V535.46h1.30V545.40zM410.00 545.40V538.41h1.30V545.40zM411.00 545.40V536.91h1.30V545.40zM412.00 545.40V533.91h1.30V545.40zM413.00 545.40V533.49h1.30V545.40zM414.00 545.40V532.78h1.30V545.40zM415.00 545.40V534.67h1.30V545.40zM416.00 545.40V532.44h1.13V545.40zM416.83 545.40V531.10h1.13V545.40zM417.67 545.40V537.15h1.13V545.40zM418.50 545.40V530.89h1.05V545.40zM419.25 545.40V526.78h1.05V545.40zM420.00 545.40V524.92h1.30V545.40zM421.00 545.40V534.47h1.30V545.40zM422.00 545.40V524.45h1.30V545.40zM423.80 545.40V543.79h1.20V545.40zM424.70 545.40V543.88h1.20V545.40zM425.60 545.40V543.69h1.20V545.40zM426.50 545.40V543.25h1.20V545.40zM427.40 545.40V543.17h1.20V545.40zM428.30 545.40V543.47h1.20V545.40zM429.20 545.40V543.22h1.20V545.40zM430.10 545.40V543.29h1.20V545.40zM431.00 545.40V543.18h1.30V545.40zM432.00 545.40V543.12h1.30V545.40zM433.00 545.40V542.37h1.30V545.40zM434.00 545.40V542.97h1.30V545.40zM435.00 545.40V542.83h1.30V545.40zM436.00 545.40V543.10h1.30V545.40zM437.00 545.40V542.47h1.30V545.40zM438.00 545.40V542.63h1.30V545.40zM439.00 545.40V543.21h1.30V545.40zM440.00 545.40V542.66h1.30V545.40zM441.00 545.40V542.84h1.30V545.40zM442.00 545.40V542.02h1.30V545.40zM443.00 545.40V542.07h1.30V545.40zM444.00 545.40V542.21h1.30V545.40zM445.00 545.40V542.59h1.30V545.40zM446.00 545.40V542.33h1.30V545.40zM447.00 545.40V542.04h1.30V545.40zM448.00 545.40V542.34h1.30V545.40zM449.00 545.40V541.80h1.30V545.40zM450.50 545.40V539.96h1.13V545.40zM451.33 545.40V539.96h1.13V545.40zM452.17 545.40V539.85h1.13V545.40zM453.00 545.40V540.42h1.30V545.40zM454.00 545.40V537.54h1.30V545.40zM455.00 545.40V540.25h1.30V545.40zM456.00 545.40V535.70h1.30V545.40zM457.00 545.40V537.10h1.30V545.40zM458.00 545.40V533.74h1.30V545.40zM459.00 545.40V531.97h1.30V545.40zM460.00 545.40V530.54h1.30V545.40zM461.00 545.40V527.75h1.30V545.40zM462.00 545.40V528.51h1.30V545.40zM463.00 545.40V530.77h1.30V545.40zM464.00 545.40V522.57h1.30V545.40zM465.00 545.40V524.50h1.30V545.40zM466.00 545.40V519.68h1.30V545.40zM467.00 545.40V518.56h1.30V545.40zM468.00 545.40V518.27h1.45V545.40zM469.15 545.40V516.98h1.45V545.40zM471.00 545.40V544.21h1.30V545.40zM472.00 545.40V544.05h1.30V545.40zM473.00 545.40V543.43h1.30V545.40zM474.00 545.40V543.50h1.30V545.40zM475.00 545.40V542.90h1.30V545.40zM476.00 545.40V541.45h1.30V545.40zM477.00 545.40V539.97h1.30V545.40zM478.00 545.40V538.89h1.30V545.40zM479.00 545.40V537.42h1.30V545.40zM480.00 545.40V536.65h1.13V545.40zM480.83 545.40V536.12h1.13V545.40zM481.67 545.40V536.56h1.13V545.40zM482.50 545.40V537.03h1.27V545.40zM483.47 545.40V529.27h1.27V545.40zM484.43 545.40V530.79h1.27V545.40zM485.40 545.40V534.30h1.17V545.40zM486.27 545.40V527.71h1.17V545.40zM487.13 545.40V528.72h1.17V545.40zM488.00 545.40V528.51h1.30V545.40zM489.00 545.40V525.32h1.30V545.40zM490.00 545.40V518.18h1.30V545.40zM491.00 545.40V516.09h1.40V545.40zM492.10 545.40V522.05h1.40V545.40zM493.20 545.40V515.96h1.40V545.40zM495.50 545.40V543.16h1.18V545.40zM496.38 545.40V543.17h1.18V545.40zM497.25 545.40V542.53h1.18V545.40zM498.12 545.40V542.63h1.18V545.40zM499.00 545.40V541.41h1.30V545.40zM500.00 545.40V540.14h1.30V545.40zM501.00 545.40V538.90h1.30V545.40zM502.00 545.40V538.09h1.27V545.40zM502.97 545.40V535.67h1.27V545.40zM503.93 545.40V536.15h1.27V545.40zM504.90 545.40V534.00h1.27V545.40zM505.87 545.40V531.85h1.27V545.40zM506.83 545.40V531.92h1.27V545.40zM507.80 545.40V529.87h1.27V545.40zM508.77 545.40V528.22h1.27V545.40zM509.73 545.40V526.45h1.27V545.40zM510.70 545.40V527.95h1.23V545.40zM511.63 545.40V523.19h1.23V545.40zM512.57 545.40V530.53h1.23V545.40zM513.50 545.40V527.53h1.20V545.40zM514.40 545.40V524.21h1.20V545.40zM515.30 545.40V524.67h1.20V545.40zM336.11 541.30h1.6v1.6h-1.6zM341.20 540.70h1.6v1.6h-1.6zM341.60 540.14h1.6v1.6h-1.6zM344.78 539.63h1.6v1.6h-1.6zM345.20 540.64h1.6v1.6h-1.6zM346.28 539.69h1.6v1.6h-1.6zM348.13 540.04h1.6v1.6h-1.6zM348.88 540.55h1.6v1.6h-1.6zM352.02 539.36h1.6v1.6h-1.6zM359.07 536.88h1.6v1.6h-1.6zM360.26 537.39h1.6v1.6h-1.6zM362.20 536.25h1.6v1.6h-1.6zM363.19 536.22h1.6v1.6h-1.6zM365.12 535.19h1.6v1.6h-1.6zM366.93 535.53h1.6v1.6h-1.6zM371.13 536.06h1.6v1.6h-1.6zM374.15 537.05h1.6v1.6h-1.6zM383.04 538.58h1.6v1.6h-1.6zM387.03 535.25h1.6v1.6h-1.6zM388.18 534.64h1.6v1.6h-1.6zM388.92 534.58h1.6v1.6h-1.6zM389.82 533.57h1.6v1.6h-1.6zM392.97 530.72h1.6v1.6h-1.6zM393.81 529.80h1.6v1.6h-1.6zM395.49 527.57h1.6v1.6h-1.6zM397.44 525.76h1.6v1.6h-1.6zM402.08 541.92h1.6v1.6h-1.6zM403.14 540.19h1.6v1.6h-1.6zM403.77 539.15h1.6v1.6h-1.6zM407.06 537.46h1.6v1.6h-1.6zM408.24 536.44h1.6v1.6h-1.6zM409.28 534.10h1.6v1.6h-1.6zM409.97 535.89h1.6v1.6h-1.6zM412.17 532.28h1.6v1.6h-1.6zM412.78 531.69h1.6v1.6h-1.6zM414.26 531.61h1.6v1.6h-1.6zM415.23 533.34h1.6v1.6h-1.6zM416.68 529.90h1.6v1.6h-1.6zM419.26 524.87h1.6v1.6h-1.6zM420.17 522.98h1.6v1.6h-1.6zM421.71 522.54h1.6v1.6h-1.6zM434.24 541.06h1.6v1.6h-1.6zM435.21 541.16h1.6v1.6h-1.6zM438.26 540.76h1.6v1.6h-1.6zM440.17 540.70h1.6v1.6h-1.6zM442.17 540.52h1.6v1.6h-1.6zM442.97 540.95h1.6v1.6h-1.6zM445.18 540.73h1.6v1.6h-1.6zM448.71 540.22h1.6v1.6h-1.6zM450.47 538.58h1.6v1.6h-1.6zM452.13 538.02h1.6v1.6h-1.6zM454.23 536.42h1.6v1.6h-1.6zM455.00 535.19h1.6v1.6h-1.6zM455.70 534.33h1.6v1.6h-1.6zM457.03 535.77h1.6v1.6h-1.6zM458.92 529.88h1.6v1.6h-1.6zM461.11 526.29h1.6v1.6h-1.6zM463.05 525.40h1.6v1.6h-1.6zM463.95 520.93h1.6v1.6h-1.6zM465.13 518.65h1.6v1.6h-1.6zM468.28 514.37h1.6v1.6h-1.6zM469.09 515.31h1.6v1.6h-1.6zM478.72 535.75h1.6v1.6h-1.6zM484.45 525.40h1.6v1.6h-1.6zM485.35 532.61h1.6v1.6h-1.6zM486.13 523.95h1.6v1.6h-1.6zM491.28 512.72h1.6v1.6h-1.6zM493.38 512.61h1.6v1.6h-1.6zM497.08 541.01h1.6v1.6h-1.6zM498.95 540.10h1.6v1.6h-1.6zM502.75 534.42h1.6v1.6h-1.6zM503.75 534.32h1.6v1.6h-1.6zM505.90 530.58h1.6v1.6h-1.6zM507.93 527.02h1.6v1.6h-1.6zM509.92 523.13h1.6v1.6h-1.6zM511.67 522.08h1.6v1.6h-1.6zM514.57 521.37h1.6v1.6h-1.6z"/>
<path fill="#fff" d="M343.78 543.01h0.95v0.95h-0.95zM346.62 542.52h0.95v0.95h-0.95zM362.98 542.97h0.95v0.95h-0.95zM366.06 539.48h0.95v0.95h-0.95zM367.20 542.31h0.95v0.95h-0.95zM369.40 539.87h0.95v0.95h-0.95zM373.30 538.94h0.95v0.95h-0.95zM381.85 542.96h0.95v0.95h-0.95zM383.30 542.58h0.95v0.95h-0.95zM385.99 539.02h0.95v0.95h-0.95zM393.25 540.02h0.95v0.95h-0.95zM396.13 533.14h0.95v0.95h-0.95zM395.93 537.98h0.95v0.95h-0.95zM396.33 533.43h0.95v0.95h-0.95zM396.51 531.42h0.95v0.95h-0.95zM414.88 539.25h0.95v0.95h-0.95zM420.22 539.11h0.95v0.95h-0.95zM452.93 541.77h0.95v0.95h-0.95zM456.12 537.07h0.95v0.95h-0.95zM461.90 538.88h0.95v0.95h-0.95zM463.25 534.71h0.95v0.95h-0.95zM467.02 539.33h0.95v0.95h-0.95zM467.94 520.63h0.95v0.95h-0.95zM481.92 541.61h0.95v0.95h-0.95zM492.00 530.59h0.95v0.95h-0.95zM493.16 540.48h0.95v0.95h-0.95zM509.64 541.70h0.95v0.95h-0.95zM511.45 538.56h0.95v0.95h-0.95zM513.45 543.21h0.95v0.95h-0.95zM514.57 527.23h0.95v0.95h-0.95z"/>
<g fill="#111"><circle cx="373.8" cy="520.8" r="0.95"/><circle cx="385.4" cy="522.3" r="0.95"/><circle cx="384.6" cy="528.5" r="0.95"/><circle cx="396.2" cy="514.6" r="0.95"/><circle cx="396.2" cy="520.8" r="0.95"/><circle cx="396.2" cy="503" r="0.95"/><circle cx="397.4" cy="483" r="0.95"/><circle cx="396.2" cy="474.3" r="0.95"/><circle cx="414.6" cy="518.5" r="0.95"/><circle cx="410" cy="530" r="0.95"/><circle cx="416.2" cy="529.2" r="0.95"/><circle cx="420" cy="516.2" r="0.95"/><circle cx="433" cy="523.8" r="0.95"/><circle cx="437.7" cy="527.7" r="0.95"/><circle cx="443.8" cy="523.8" r="0.95"/><circle cx="431.5" cy="532.3" r="0.95"/><circle cx="461.6" cy="509" r="0.95"/><circle cx="464.5" cy="509" r="0.95"/><circle cx="468.8" cy="500.3" r="0.95"/><circle cx="468" cy="483" r="0.95"/><circle cx="452.9" cy="501.7" r="0.95"/><circle cx="493.3" cy="472.2" r="0.95"/><circle cx="485.2" cy="415.3" r="0.95"/><circle cx="491.8" cy="465" r="0.95"/><circle cx="493.1" cy="471.5" r="0.95"/><circle cx="487" cy="512" r="0.95"/><circle cx="489" cy="516" r="0.95"/><circle cx="420.5" cy="463" r="0.95"/><circle cx="420.3" cy="470" r="0.95"/><circle cx="420.6" cy="485" r="0.95"/><circle cx="420.2" cy="498" r="0.95"/><circle cx="420.3" cy="503" r="0.95"/><circle cx="420.5" cy="512" r="0.95"/><circle cx="396.5" cy="510" r="0.95"/><circle cx="512.8" cy="513.3" r="0.95"/><circle cx="514.3" cy="503.9" r="0.95"/><circle cx="515.7" cy="506.8" r="0.95"/><circle cx="504.9" cy="499.6" r="0.95"/><circle cx="512.5" cy="480" r="0.95"/><circle cx="515.7" cy="472.9" r="0.95"/><circle cx="515.7" cy="494.5" r="0.95"/><circle cx="509" cy="516" r="0.95"/><circle cx="506" cy="521" r="0.95"/></g>
<g fill="#c81c2e"><circle cx="372" cy="450.7" r="1.65"/><circle cx="373.9" cy="456.1" r="1.65"/><circle cx="396" cy="460.7" r="1.65"/><circle cx="397" cy="488.8" r="1.65"/><circle cx="396" cy="495.3" r="1.65"/><circle cx="421.4" cy="393.1" r="1.65"/><circle cx="420.1" cy="405.7" r="1.65"/><circle cx="421.4" cy="413.6" r="1.65"/><circle cx="421.4" cy="418.8" r="1.65"/><circle cx="421.4" cy="426.7" r="1.65"/><circle cx="421.4" cy="429.3" r="1.65"/><circle cx="421.4" cy="432.4" r="1.65"/><circle cx="420.1" cy="439.8" r="1.65"/><circle cx="409.6" cy="440.3" r="1.65"/><circle cx="420.6" cy="454.7" r="1.65"/><circle cx="420.1" cy="458.6" r="1.65"/><circle cx="418" cy="473" r="1.65"/><circle cx="420.1" cy="475.7" r="1.65"/><circle cx="420.1" cy="479.6" r="1.65"/><circle cx="421.4" cy="480.9" r="1.65"/><circle cx="419.6" cy="492.7" r="1.65"/><circle cx="413.5" cy="501.9" r="1.65"/><circle cx="419.6" cy="507.9" r="1.65"/><circle cx="439.7" cy="424" r="1.65"/><circle cx="469" cy="423.1" r="1.65"/><circle cx="469" cy="437" r="1.65"/><circle cx="469" cy="444.9" r="1.65"/><circle cx="464.8" cy="452.7" r="1.65"/><circle cx="469.5" cy="487.2" r="1.65"/><circle cx="466.4" cy="492.4" r="1.65"/><circle cx="466.4" cy="496.4" r="1.65"/><circle cx="493.9" cy="395.7" r="1.65"/><circle cx="491.8" cy="403" r="1.65"/><circle cx="480.8" cy="412.7" r="1.65"/><circle cx="493.9" cy="414" r="1.65"/><circle cx="493.1" cy="440.1" r="1.65"/><circle cx="493.1" cy="448" r="1.65"/><circle cx="491.8" cy="456.6" r="1.65"/><circle cx="492.5" cy="478.1" r="1.65"/><circle cx="491.8" cy="487.2" r="1.65"/><circle cx="492.5" cy="491.1" r="1.65"/><circle cx="493.1" cy="497.7" r="1.65"/><circle cx="485.2" cy="505" r="1.65"/><circle cx="489.1" cy="505.5" r="1.65"/><circle cx="491" cy="506.8" r="1.65"/><circle cx="514" cy="452.7" r="1.65"/><circle cx="515.3" cy="489.8" r="1.65"/></g>
<rect x="326.70" y="545.70" width="95.64" height="8.40" fill="#2b3590"/>
<rect x="326.70" y="553.70" width="47.89" height="8.90" fill="#b03a9e"/>
<rect x="422.19" y="553.70" width="47.89" height="8.90" fill="#b03a9e"/>
<rect x="326.70" y="562.20" width="24.02" height="9.50" fill="#e52a2b"/>
<rect x="374.44" y="562.20" width="24.02" height="9.50" fill="#e52a2b"/>
<rect x="422.19" y="562.20" width="24.02" height="9.50" fill="#e52a2b"/>
<rect x="469.93" y="562.20" width="24.02" height="9.50" fill="#e52a2b"/>
<rect x="326.70" y="571.30" width="12.09" height="9.10" fill="#4a68b8"/>
<rect x="350.57" y="571.30" width="12.09" height="9.10" fill="#4a68b8"/>
<rect x="374.44" y="571.30" width="12.09" height="9.10" fill="#4a68b8"/>
<rect x="398.32" y="571.30" width="12.09" height="9.10" fill="#4a68b8"/>
<rect x="422.19" y="571.30" width="12.09" height="9.10" fill="#4a68b8"/>
<rect x="446.06" y="571.30" width="12.09" height="9.10" fill="#4a68b8"/>
<rect x="469.93" y="571.30" width="12.09" height="9.10" fill="#4a68b8"/>
<rect x="493.80" y="571.30" width="12.09" height="9.10" fill="#4a68b8"/>
<rect x="326.70" y="580.00" width="9.10" height="8.90" fill="#f26b24"/>
<rect x="338.64" y="580.00" width="6.12" height="8.90" fill="#f26b24"/>
<rect x="350.57" y="580.00" width="6.12" height="8.90" fill="#f26b24"/>
<rect x="362.51" y="580.00" width="6.12" height="8.90" fill="#f26b24"/>
<rect x="374.44" y="580.00" width="6.12" height="8.90" fill="#f26b24"/>
<rect x="386.38" y="580.00" width="6.12" height="8.90" fill="#f26b24"/>
<rect x="398.32" y="580.00" width="6.12" height="8.90" fill="#f26b24"/>
<rect x="410.25" y="580.00" width="6.12" height="8.90" fill="#f26b24"/>
<rect x="422.19" y="580.00" width="6.12" height="8.90" fill="#f26b24"/>
<rect x="434.12" y="580.00" width="6.12" height="8.90" fill="#f26b24"/>
<rect x="446.06" y="580.00" width="6.12" height="8.90" fill="#f26b24"/>
<rect x="458.00" y="580.00" width="6.12" height="8.90" fill="#f26b24"/>
<rect x="469.93" y="580.00" width="6.12" height="8.90" fill="#f26b24"/>
<rect x="481.87" y="580.00" width="6.12" height="8.90" fill="#f26b24"/>
<rect x="493.80" y="580.00" width="6.12" height="8.90" fill="#f26b24"/>
<rect x="505.74" y="580.00" width="6.12" height="8.90" fill="#f26b24"/>
<rect x="326.70" y="588.50" width="3.13" height="9.30" fill="#1a8045"/>
<rect x="332.67" y="588.50" width="3.13" height="9.30" fill="#1a8045"/>
<rect x="338.64" y="588.50" width="3.13" height="9.30" fill="#1a8045"/>
<rect x="344.60" y="588.50" width="3.13" height="9.30" fill="#1a8045"/>
<rect x="350.57" y="588.50" width="3.13" height="9.30" fill="#1a8045"/>
<rect x="356.54" y="588.50" width="3.13" height="9.30" fill="#1a8045"/>
<rect x="362.51" y="588.50" width="3.13" height="9.30" fill="#1a8045"/>
<rect x="368.48" y="588.50" width="3.13" height="9.30" fill="#1a8045"/>
<rect x="374.44" y="588.50" width="3.13" height="9.30" fill="#1a8045"/>
<rect x="380.41" y="588.50" width="3.13" height="9.30" fill="#1a8045"/>
<rect x="386.38" y="588.50" width="3.13" height="9.30" fill="#1a8045"/>
<rect x="392.35" y="588.50" width="3.13" height="9.30" fill="#1a8045"/>
<rect x="398.32" y="588.50" width="3.13" height="9.30" fill="#1a8045"/>
<rect x="404.28" y="588.50" width="3.13" height="9.30" fill="#1a8045"/>
<rect x="410.25" y="588.50" width="3.13" height="9.30" fill="#1a8045"/>
<rect x="416.22" y="588.50" width="3.13" height="9.30" fill="#1a8045"/>
<rect x="422.19" y="588.50" width="3.13" height="9.30" fill="#1a8045"/>
<rect x="428.16" y="588.50" width="3.13" height="9.30" fill="#1a8045"/>
<rect x="434.12" y="588.50" width="3.13" height="9.30" fill="#1a8045"/>
<rect x="440.09" y="588.50" width="3.13" height="9.30" fill="#1a8045"/>
<rect x="446.06" y="588.50" width="3.13" height="9.30" fill="#1a8045"/>
<rect x="452.03" y="588.50" width="3.13" height="9.30" fill="#1a8045"/>
<rect x="458.00" y="588.50" width="3.13" height="9.30" fill="#1a8045"/>
<rect x="463.96" y="588.50" width="3.13" height="9.30" fill="#1a8045"/>
<rect x="469.93" y="588.50" width="3.13" height="9.30" fill="#1a8045"/>
<rect x="475.90" y="588.50" width="3.13" height="9.30" fill="#1a8045"/>
<rect x="481.87" y="588.50" width="3.13" height="9.30" fill="#1a8045"/>
<rect x="487.84" y="588.50" width="3.13" height="9.30" fill="#1a8045"/>
<rect x="493.80" y="588.50" width="3.13" height="9.30" fill="#1a8045"/>
<rect x="499.77" y="588.50" width="3.13" height="9.30" fill="#1a8045"/>
<rect x="505.74" y="588.50" width="3.13" height="9.30" fill="#1a8045"/>
<rect x="511.71" y="588.50" width="3.13" height="9.30" fill="#1a8045"/>
<g fill="#111"><rect x="326.35" y="597.40" width="1.65" height="8.60"/><rect x="329.33" y="597.40" width="1.65" height="8.60"/><rect x="332.32" y="597.40" width="1.65" height="8.60"/><rect x="335.30" y="597.40" width="1.65" height="8.60"/><rect x="338.29" y="597.40" width="1.65" height="8.60"/><rect x="341.27" y="597.40" width="1.65" height="8.60"/><rect x="344.25" y="597.40" width="1.65" height="8.60"/><rect x="347.24" y="597.40" width="1.65" height="8.60"/><rect x="350.22" y="597.40" width="1.65" height="8.60"/><rect x="353.21" y="597.40" width="1.65" height="8.60"/><rect x="356.19" y="597.40" width="1.65" height="8.60"/><rect x="359.17" y="597.40" width="1.65" height="8.60"/><rect x="362.16" y="597.40" width="1.65" height="8.60"/><rect x="365.14" y="597.40" width="1.65" height="8.60"/><rect x="368.13" y="597.40" width="1.65" height="8.60"/><rect x="371.11" y="597.40" width="1.65" height="8.60"/><rect x="374.09" y="597.40" width="1.65" height="8.60"/><rect x="377.08" y="597.40" width="1.65" height="8.60"/><rect x="380.06" y="597.40" width="1.65" height="8.60"/><rect x="383.05" y="597.40" width="1.65" height="8.60"/><rect x="386.03" y="597.40" width="1.65" height="8.60"/><rect x="389.01" y="597.40" width="1.65" height="8.60"/><rect x="392.00" y="597.40" width="1.65" height="8.60"/><rect x="394.98" y="597.40" width="1.65" height="8.60"/><rect x="397.97" y="597.40" width="1.65" height="8.60"/><rect x="400.95" y="597.40" width="1.65" height="8.60"/><rect x="403.93" y="597.40" width="1.65" height="8.60"/><rect x="406.92" y="597.40" width="1.65" height="8.60"/><rect x="409.90" y="597.40" width="1.65" height="8.60"/><rect x="412.89" y="597.40" width="1.65" height="8.60"/><rect x="415.87" y="597.40" width="1.65" height="8.60"/><rect x="418.85" y="597.40" width="1.65" height="8.60"/><rect x="421.84" y="597.40" width="1.65" height="8.60"/><rect x="424.82" y="597.40" width="1.65" height="8.60"/><rect x="427.81" y="597.40" width="1.65" height="8.60"/><rect x="430.79" y="597.40" width="1.65" height="8.60"/><rect x="433.77" y="597.40" width="1.65" height="8.60"/><rect x="436.76" y="597.40" width="1.65" height="8.60"/><rect x="439.74" y="597.40" width="1.65" height="8.60"/><rect x="442.73" y="597.40" width="1.65" height="8.60"/><rect x="445.71" y="597.40" width="1.65" height="8.60"/><rect x="448.69" y="597.40" width="1.65" height="8.60"/><rect x="451.68" y="597.40" width="1.65" height="8.60"/><rect x="454.66" y="597.40" width="1.65" height="8.60"/><rect x="457.65" y="597.40" width="1.65" height="8.60"/><rect x="460.63" y="597.40" width="1.65" height="8.60"/><rect x="463.61" y="597.40" width="1.65" height="8.60"/><rect x="466.60" y="597.40" width="1.65" height="8.60"/><rect x="469.58" y="597.40" width="1.65" height="8.60"/><rect x="472.57" y="597.40" width="1.65" height="8.60"/><rect x="475.55" y="597.40" width="1.65" height="8.60"/><rect x="478.53" y="597.40" width="1.65" height="8.60"/><rect x="481.52" y="597.40" width="1.65" height="8.60"/><rect x="484.50" y="597.40" width="1.65" height="8.60"/><rect x="487.49" y="597.40" width="1.65" height="8.60"/><rect x="490.47" y="597.40" width="1.65" height="8.60"/><rect x="493.45" y="597.40" width="1.65" height="8.60"/><rect x="496.44" y="597.40" width="1.65" height="8.60"/><rect x="499.42" y="597.40" width="1.65" height="8.60"/><rect x="502.41" y="597.40" width="1.65" height="8.60"/><rect x="505.39" y="597.40" width="1.65" height="8.60"/><rect x="508.37" y="597.40" width="1.65" height="8.60"/><rect x="511.36" y="597.40" width="1.65" height="8.60"/><rect x="514.34" y="597.40" width="1.65" height="8.60"/></g>
<text x="322.70" y="541.00" font-size="12" text-anchor="end" font-weight="normal" fill="#3a3c72" stroke="#3a3c72" stroke-width="0.3" textLength="28.0" lengthAdjust="spacingAndGlyphs" >2DL1</text>
<text x="322.70" y="555.95" font-size="12" text-anchor="end" font-weight="normal" fill="#a0569a" stroke="#a0569a" stroke-width="0.3" textLength="42.5" lengthAdjust="spacingAndGlyphs" >2DL2/S2</text>
<text x="322.70" y="570.90" font-size="12" text-anchor="end" font-weight="normal" fill="#bc3f48" stroke="#bc3f48" stroke-width="0.3" textLength="26.0" lengthAdjust="spacingAndGlyphs" >2DL3</text>
<text x="322.70" y="585.85" font-size="12" text-anchor="end" font-weight="normal" fill="#5f6fa4" stroke="#5f6fa4" stroke-width="0.3" textLength="26.0" lengthAdjust="spacingAndGlyphs" >2DS1</text>
<text x="322.70" y="600.80" font-size="12" text-anchor="end" font-weight="normal" fill="#e08c5c" stroke="#e08c5c" stroke-width="0.3" textLength="26.5" lengthAdjust="spacingAndGlyphs" >2DS4</text>
<text x="322.70" y="615.75" font-size="12" text-anchor="end" font-weight="normal" fill="#3a8458" stroke="#3a8458" stroke-width="0.3" textLength="26.0" lengthAdjust="spacingAndGlyphs" >3DL1</text>
<text x="322.70" y="630.70" font-size="12" text-anchor="end" font-weight="normal" fill="#1a1a1a" stroke="#1a1a1a" stroke-width="0.3" textLength="26.0" lengthAdjust="spacingAndGlyphs" >3DL2</text>
</svg>
</body></html>
